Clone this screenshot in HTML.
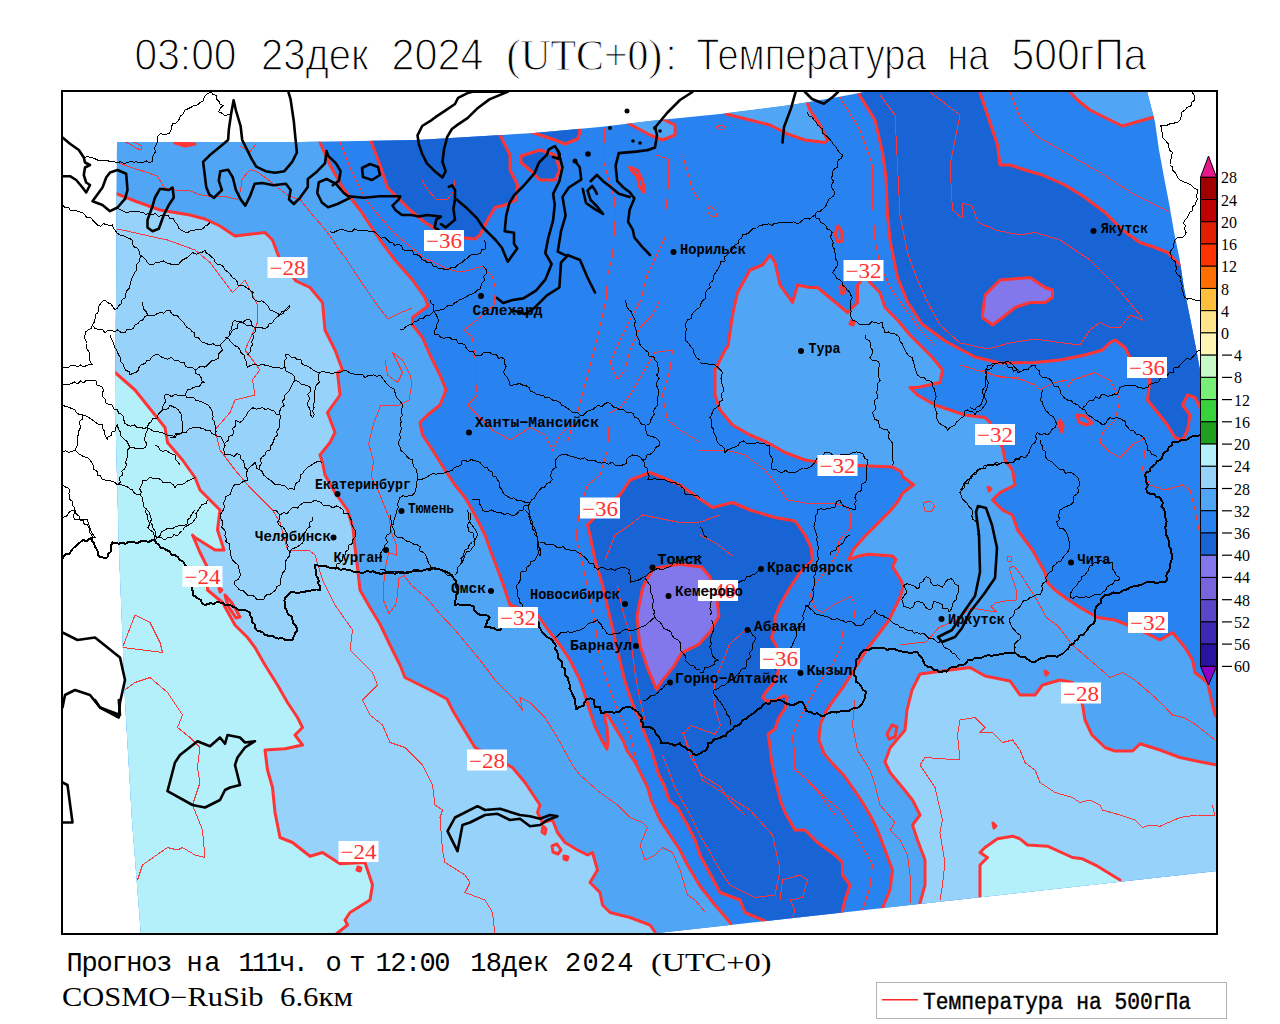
<!DOCTYPE html>
<html><head><meta charset="utf-8"><style>
html,body{margin:0;padding:0;background:#fff;width:1280px;height:1024px;overflow:hidden}
svg{display:block}
text{font-family:"Liberation Sans",sans-serif}
.tr{fill:none;stroke:#ff3434;stroke-width:3;stroke-linejoin:round;stroke-linecap:round}
.tn{fill:none;stroke:#f83838;stroke-width:1;stroke-linejoin:round;shape-rendering:crispEdges}
.bk{fill:none;stroke:#000;stroke-width:2.6;stroke-linejoin:round;stroke-linecap:round}
.bm{fill:none;stroke:#000;stroke-width:2;stroke-linejoin:round;shape-rendering:crispEdges}
.bt{fill:none;stroke:#000;stroke-width:1;stroke-linejoin:round;shape-rendering:crispEdges}
.gd{fill:none;stroke:#b4a08c;stroke-width:1;stroke-dasharray:2 10}
.lb{font-family:"Liberation Serif",serif;font-size:21px;fill:#ff3030}
.ct{font-family:"Liberation Mono",monospace;font-weight:bold;font-size:15px;fill:#000}
.cb{font-family:"Liberation Serif",serif;font-size:16px;fill:#000}
</style></head><body>
<svg width="1280" height="1024" viewBox="0 0 1280 1024">

<defs><clipPath id="fld"><polygon points="117.0,142.0 300.0,142.0 417.0,140.0 534.0,133.0 600.0,127.0 650.0,121.0 720.0,114.0 791.0,105.0 838.0,97.0 870.0,91.0 1147.0,91.0 1155.0,122.0 1159.0,150.0 1164.0,177.0 1169.4,205.0 1174.0,232.0 1179.6,259.0 1183.8,287.0 1190.7,321.0 1196.0,348.0 1200.0,370.0 1217.0,455.0 1217.0,871.0 640.0,935.0 141.0,935.0 132.0,820.0 125.0,700.0 119.0,550.0 115.0,400.0 116.0,300.0"/></clipPath><clipPath id="fr"><rect x="62" y="91" width="1155" height="843"/></clipPath></defs>
<g clip-path="url(#fr)"><g clip-path="url(#fld)">
<rect x="0" y="0" width="1280" height="1024" fill="#2882f0"/>
<polygon fill="#50a5f5" points="320.0,142.5 330.0,165.0 342.5,187.5 360.0,210.0 380.0,240.0 395.0,260.0 412.5,280.0 425.0,297.5 428.0,306.0 412.5,317.5 412.5,325.0 422.5,337.5 430.0,355.0 440.0,375.0 446.0,390.0 440.0,405.0 427.5,415.0 420.0,422.5 422.5,435.0 432.5,450.0 445.0,470.0 455.0,485.0 465.0,497.5 475.0,515.0 485.0,535.0 492.5,556.0 495.0,562.5 502.5,582.5 510.0,605.0 537.5,615.0 550.0,632.5 560.0,645.0 570.0,660.0 580.0,680.0 585.8,697.6 589.3,709.3 595.2,726.9 601.0,738.6 606.9,749.1 608.0,741.0 606.9,726.9 604.5,717.5 605.7,712.8 609.2,717.5 616.2,729.2 623.3,741.0 626.8,750.3 635.0,762.0 642.0,776.0 647.9,787.8 651.0,800.0 660.0,820.0 670.0,835.0 680.0,850.0 687.5,865.0 700.0,886.0 715.0,905.0 730.0,922.5 735.0,935.0 740.0,980.0 0.0,980.0 0.0,60.0 320.0,60.0"/>
<polygon fill="#96d2fa" points="117.0,193.8 135.0,201.0 160.0,210.0 190.0,215.0 205.0,219.0 220.0,226.0 235.0,236.0 265.0,232.5 272.5,240.0 280.0,260.0 296.0,281.0 310.0,287.5 322.5,302.5 325.0,330.0 335.0,350.0 342.5,370.0 337.5,372.5 340.0,395.0 327.5,412.5 335.0,432.5 330.0,442.5 320.0,455.0 322.5,462.5 325.0,475.0 335.0,492.5 347.5,510.0 353.0,528.0 355.0,547.5 357.5,567.5 360.0,590.0 370.0,607.5 380.0,624.0 390.0,645.0 400.0,665.0 405.0,677.5 430.0,690.0 447.0,699.0 453.0,711.0 465.0,731.0 475.0,747.5 512.5,767.5 525.0,782.5 540.0,805.0 537.5,812.5 542.5,822.5 552.5,820.0 557.5,832.5 565.0,842.5 577.5,850.0 587.5,855.0 592.5,852.5 597.5,870.0 590.0,882.5 600.0,892.5 602.5,905.0 610.0,912.5 630.0,917.5 650.0,925.0 655.0,932.0 655.0,980.0 0.0,980.0 0.0,190.0"/>
<polygon fill="#b4f0fa" points="115.0,372.5 135.0,390.0 155.0,415.0 165.0,427.5 167.5,442.5 182.5,460.0 195.0,477.5 200.0,490.0 220.0,510.0 217.5,530.0 224.0,550.0 215.0,550.0 195.0,537.5 192.5,535.0 200.0,552.5 207.5,567.5 207.5,590.0 222.5,602.5 235.0,625.0 247.5,637.5 255.0,647.5 265.0,665.0 277.5,685.0 287.5,702.5 297.5,717.5 302.5,727.5 295.0,735.0 302.5,745.0 285.0,748.8 265.0,750.0 267.5,770.0 272.5,787.5 275.0,812.5 280.0,837.5 292.5,842.5 310.0,856.2 322.5,852.5 340.0,863.8 365.0,862.5 372.5,885.0 370.0,900.0 350.0,912.5 345.0,920.0 347.5,925.0 335.0,935.0 335.0,980.0 0.0,980.0 0.0,372.0"/>
<polygon fill="#1864d4" points="371.0,141.0 380.0,165.0 387.5,187.5 400.0,200.0 410.0,210.0 425.0,222.5 437.5,230.0 450.0,236.0 465.0,238.0 475.0,239.0 480.0,235.0 487.5,220.0 495.0,207.5 505.0,205.0 516.0,200.0 517.5,185.0 510.0,170.0 510.0,155.0 500.0,135.0 500.0,60.0 371.0,60.0"/>
<polygon fill="#1864d4" points="528.0,131.0 555.0,140.0 565.0,144.0 577.5,139.0 580.0,132.5 579.0,128.0 579.0,60.0 528.0,60.0"/>
<polygon fill="#1864d4" points="521.0,156.0 540.0,150.0 555.0,155.0 560.0,170.0 555.0,180.0 540.0,180.0 530.0,170.0 521.0,162.5"/>
<polygon fill="#50a5f5" points="624.0,121.0 650.0,135.0 662.5,140.0 675.0,135.0 675.0,125.0 662.5,119.0 662.0,60.0 624.0,60.0"/>
<polygon fill="#50a5f5" points="726.0,114.0 750.0,120.0 770.0,125.0 787.5,133.8 805.0,140.0 825.0,142.5 827.5,140.0 820.0,125.0 810.0,110.0 807.5,104.0 807.0,60.0 726.0,60.0"/>
<polygon fill="#1864d4" points="858.8,94.0 875.0,120.0 882.5,152.5 886.0,177.5 887.5,215.0 890.0,240.0 897.5,277.5 907.5,302.0 922.0,324.0 945.0,341.0 975.0,357.0 1000.0,363.0 1035.0,362.5 1060.0,360.0 1085.0,355.0 1102.5,350.0 1110.0,342.5 1115.0,340.0 1125.0,347.5 1130.0,357.5 1140.0,368.0 1150.0,380.0 1147.5,400.0 1157.5,412.5 1167.5,425.0 1175.0,437.5 1182.5,440.0 1187.5,430.0 1190.0,415.0 1182.5,405.0 1187.5,395.0 1195.0,397.5 1200.0,407.5 1207.5,427.5 1300.0,430.0 1300.0,265.0 1180.0,265.0 1167.5,252.5 1155.0,247.5 1140.0,242.5 1122.5,230.0 1105.0,212.5 1085.0,197.5 1065.0,185.0 1042.5,175.0 1025.0,170.0 1010.0,165.0 1000.0,165.0 997.5,145.0 990.0,122.5 980.0,92.5 980.0,60.0 858.0,60.0"/>
<polygon fill="#50a5f5" points="1070.0,92.0 1077.5,100.0 1090.0,110.0 1110.0,120.0 1122.5,126.0 1140.0,121.0 1152.5,117.5 1158.0,117.0 1160.0,60.0 1070.0,60.0"/>
<polygon fill="#8278eb" points="982.5,315.0 985.0,295.0 1000.0,280.0 1030.0,277.5 1045.0,287.5 1052.5,290.0 1052.5,297.5 1045.0,302.5 1030.0,302.5 1015.0,307.5 1002.5,317.5 992.5,325.0 982.5,317.5"/>
<polygon fill="#1864d4" points="587.5,525.0 590.0,535.0 595.0,560.0 602.5,585.0 610.0,617.5 617.5,650.0 624.5,680.0 630.3,697.6 635.0,710.5 639.7,717.5 642.0,726.9 646.7,738.6 651.4,750.3 655.0,762.0 658.4,773.8 664.3,785.5 669.0,800.0 677.5,807.5 687.5,825.0 695.0,840.0 700.0,855.0 720.0,892.5 740.0,900.0 745.0,912.5 765.0,921.0 765.0,990.0 842.0,990.0 842.0,913.0 845.0,900.0 850.0,885.0 842.5,875.0 842.5,862.5 835.0,855.0 817.5,842.5 805.0,830.0 795.0,830.0 785.0,812.5 780.2,800.0 775.0,778.0 771.4,760.6 769.6,743.0 768.0,734.2 775.0,729.0 778.4,718.4 785.4,708.0 787.2,697.3 783.7,695.6 775.0,700.8 766.0,700.8 762.6,697.3 766.0,692.0 775.0,681.5 778.4,671.0 778.0,660.0 776.7,646.4 771.4,637.6 775.0,627.0 775.0,617.5 780.0,605.0 790.0,587.5 800.0,572.5 812.5,560.0 811.0,547.5 805.0,535.0 795.0,521.0 775.0,517.5 750.0,510.0 732.5,502.5 712.5,507.5 700.0,499.0 680.0,485.0 662.5,477.5 650.0,472.5 630.0,480.0 620.0,495.0 605.0,506.0"/>
<polygon fill="#8278eb" points="653.7,568.4 679.0,564.2 701.5,567.0 710.0,577.0 716.0,593.0 719.0,616.0 710.0,632.0 698.7,644.4 681.8,652.8 673.4,666.9 662.2,680.9 656.5,689.4 648.1,669.7 639.7,644.4 636.9,616.2 642.5,588.1 648.1,576.9"/>
<polygon fill="#50a5f5" points="858.0,465.5 892.5,467.0 901.0,471.6 903.0,477.0 913.6,484.8 903.0,492.7 897.8,501.5 890.8,510.3 878.5,522.6 864.4,536.7 853.8,549.0 848.6,559.6 859.0,556.0 868.0,554.3 892.5,556.0 896.0,559.6 892.5,566.6 901.3,580.7 903.0,587.7 899.6,598.2 894.3,608.8 889.0,620.0 878.6,634.0 866.3,650.0 855.7,667.5 843.4,686.8 833.0,700.8 825.9,711.4 820.6,723.7 818.8,739.5 824.1,753.6 833.0,764.1 843.4,774.7 852.2,787.0 861.0,800.0 870.0,815.0 877.5,830.0 885.0,850.0 892.5,870.0 890.0,890.0 882.5,908.0 882.0,990.0 1300.0,990.0 1300.0,717.0 1217.0,717.0 1215.0,715.0 1212.5,705.0 1207.5,682.5 1195.0,672.5 1192.5,660.0 1185.0,647.5 1172.5,632.5 1160.0,640.0 1150.0,635.0 1127.5,625.0 1115.0,620.0 1097.5,617.5 1080.0,607.5 1065.0,597.5 1055.0,590.0 1047.5,582.5 1045.0,572.5 1032.5,550.0 1025.0,540.0 1017.5,530.0 1012.5,515.0 1002.5,510.0 992.5,500.0 1000.0,492.5 1015.0,485.0 1012.5,470.0 1005.0,460.0 1002.5,447.5 990.0,422.5 985.0,417.5 965.0,415.0 950.0,410.0 935.0,405.0 917.5,395.0 910.0,387.5 917.5,387.5 940.0,382.5 942.5,370.0 932.5,357.5 920.0,345.0 910.0,335.0 897.5,320.0 885.0,307.5 880.0,292.5 870.0,282.5 865.0,272.0 860.0,282.5 857.5,285.0 857.5,302.5 847.5,312.5 832.5,300.0 817.5,287.5 810.0,287.5 797.5,285.0 792.5,302.5 780.0,285.0 775.0,262.5 770.0,255.0 762.5,265.0 750.0,270.0 737.5,292.5 732.5,315.0 728.0,346.0 725.0,350.0 715.0,370.0 715.0,395.0 720.0,410.0 732.5,425.0 750.0,435.0 767.5,442.5 785.0,452.5 805.0,460.0 817.5,462.0 840.0,464.0"/>
<polygon fill="#96d2fa" points="920.0,903.0 925.0,885.0 925.0,860.0 917.5,840.0 912.5,825.0 920.0,815.0 912.5,800.0 902.5,787.5 890.0,772.5 885.0,762.0 890.0,748.0 905.0,730.0 907.0,710.0 912.0,690.0 920.0,674.0 950.0,670.0 970.0,667.5 985.0,676.0 1010.0,681.0 1020.0,695.0 1035.0,695.0 1042.5,685.0 1060.0,680.0 1072.5,682.5 1082.5,705.0 1085.0,720.0 1092.0,735.0 1105.0,747.5 1115.0,751.0 1132.5,751.0 1140.0,743.8 1160.0,750.0 1180.0,757.5 1197.5,761.2 1217.0,765.0 1300.0,765.0 1300.0,990.0 920.0,990.0"/>
<polygon fill="#b4f0fa" points="980.0,898.0 980.0,865.0 987.5,857.5 980.0,852.5 985.0,847.5 997.5,838.8 1012.5,836.2 1020.0,838.8 1027.5,845.0 1047.5,846.2 1072.5,857.5 1082.5,858.8 1097.5,866.2 1120.0,880.0 1120.0,990.0 980.0,990.0"/>
<polyline class="tn" points="122.5,141.0 130.0,144.0 135.0,147.5 141.0,150.0 142.0,146.0 136.0,143.0 130.0,141.0"/>
<polyline class="tn" points="716.0,127.0 721.0,125.0 726.0,127.0 721.0,130.0 716.0,127.0"/>
<polyline class="tn" points="710.0,206.0 715.0,210.0 717.0,216.0 711.0,216.0 707.0,211.0 710.0,206.0"/>
<polyline class="tn" points="117.5,229.0 167.5,240.0 195.0,250.0 210.0,262.5 232.5,292.5 245.0,280.0 257.5,305.0 257.5,322.5 245.0,350.0 260.0,370.0 252.5,380.0 255.0,395.0 235.0,400.0 230.0,412.5 215.0,430.0 220.0,450.0 235.0,470.0 250.0,487.5 272.5,510.0 280.0,522.5 287.5,550.0 310.0,551.0 315.0,555.0 322.5,580.0 335.0,605.0 352.5,630.0 350.0,650.0 372.5,672.5 377.5,685.0 362.5,700.0 370.0,715.0 382.5,725.0 390.0,742.5 405.0,747.5 422.5,765.0 432.5,785.0 435.0,805.0 442.5,810.0 440.0,817.5 442.5,850.0 445.0,862.5 465.0,875.0 470.0,882.5 465.0,892.5 485.0,900.0 492.5,912.5 495.0,934.0"/>
<polyline class="tn" points="122.5,647.5 135.0,615.0 150.0,622.5 160.0,642.5 162.5,652.5 142.5,650.0 122.5,647.5"/>
<polyline class="tn" points="125.0,690.0 135.0,682.5 150.0,677.5 167.5,692.5 182.5,715.0 177.5,727.5 190.0,737.5 200.0,747.5 197.5,767.5 200.0,782.5 192.5,805.0 202.5,830.0 205.0,857.5 195.0,855.0 182.5,847.5 177.5,850.0 167.5,847.5 142.5,865.0 137.5,880.0"/>
<polyline class="tn" points="385.0,360.0 387.5,375.0 397.5,382.5 402.5,372.5 392.5,352.5 402.5,360.0 410.0,375.0 412.0,383.0 409.0,400.0 399.0,405.0 381.0,405.0 373.6,423.2 368.6,443.5 373.6,461.3 371.1,476.5 378.7,491.7 388.9,517.1 391.4,532.4 396.5,545.0 396.5,555.2 388.9,552.7 386.3,562.9 383.8,583.2 383.8,601.0 388.9,613.7 396.5,603.5 399.0,578.1 404.1,575.6 411.8,585.7 427.0,598.4 439.7,613.7 455.0,630.0 480.0,660.0 495.0,680.0 515.0,700.0 522.5,710.0 520.0,697.5 530.0,702.5 545.0,717.5 557.0,737.0 567.0,755.0 573.0,766.0 580.0,775.0 600.0,792.5 617.5,805.0 630.0,817.5 642.5,822.5 647.5,827.5 640.0,845.0 645.0,860.0 655.0,855.0 662.5,847.5 672.5,852.5 680.0,870.0 687.5,895.0 695.0,900.0 705.0,912.0"/>
<polyline class="tn" points="840.0,97.5 860.0,130.0 872.5,165.0 872.5,202.5 875.0,240.0 880.0,265.0 890.0,287.5 902.5,305.0 920.0,330.0 935.0,345.0"/>
<polyline class="tn" points="880.0,95.0 895.0,115.0 897.5,165.0 900.0,215.0 907.5,252.5 917.5,280.0 927.5,302.0 940.0,325.0 960.0,343.0 987.5,349.0 1010.0,343.0 1035.0,339.0 1060.0,342.5 1080.0,345.0 1090.0,330.0 1100.0,322.5 1110.0,327.5 1120.0,327.5 1130.0,315.0 1142.5,320.0 1140.0,315.0 1115.0,285.0 1090.0,260.0 1060.0,240.0 1035.0,232.5 1020.0,235.0 995.0,230.0 978.0,222.0 972.0,206.0 963.0,203.0 962.0,218.0 952.5,210.0 950.0,165.0 960.0,115.0 930.0,92.0"/>
<polyline class="tn" points="1010.0,92.5 1020.0,117.5 1035.0,135.0 1065.0,152.5 1100.0,172.5 1135.0,195.0 1170.0,212.5"/>
<polyline class="tn" points="960.0,365.0 992.5,375.0 1022.5,380.0 1035.0,385.0 1040.0,390.0 1055.0,382.5 1067.5,380.0 1067.5,387.5 1072.5,380.0 1095.0,372.5 1110.0,380.0 1120.0,400.0 1115.0,420.0 1102.5,432.5 1100.0,442.5 1110.0,452.5 1120.0,457.5 1132.5,445.0 1145.0,437.5 1145.0,450.0 1142.5,470.0 1150.0,485.0 1165.0,490.0 1182.5,485.0 1190.0,490.0 1195.0,510.0 1205.0,560.0 1215.0,590.0"/>
<polyline class="tn" points="982.5,370.0 1000.0,377.5 1020.0,377.5"/>
<polyline class="tn" points="700.0,450.0 725.0,450.0 745.0,455.0 765.0,470.0 780.0,489.0 787.0,499.8 806.4,503.3 832.7,503.3 846.8,506.8 850.3,513.8 850.3,528.0 838.0,542.0 838.0,552.5 829.2,566.6 815.2,584.2 810.0,594.7 815.2,608.8 822.2,612.3 836.3,603.5 850.3,596.5 855.6,605.3 853.8,620.0"/>
<polyline class="tn" points="700.0,535.0 715.0,542.5 732.5,556.0"/>
<polyline class="tn" points="605.0,128.0 603.0,159.0 609.0,181.0 614.0,197.0 615.6,212.5 614.0,236.0 612.5,256.0 607.8,275.0 606.0,300.0 597.5,337.5 587.5,375.0 577.5,412.5"/>
<polyline class="tn" points="656.0,155.0 668.8,159.4 668.8,181.2 665.6,212.5 665.6,236.0 656.2,256.2 646.9,275.0 641.0,300.0 630.0,320.0 620.0,340.0 610.0,362.5 617.5,380.0 625.0,370.0 630.0,350.0 640.0,327.5 652.5,315.0 660.0,300.0"/>
<polyline class="tn" points="682.8,156.2 687.5,171.9 692.2,189.0 700.0,201.6"/>
<polyline class="tn" points="672.5,350.0 655.0,352.5 640.0,377.5 630.0,395.0 620.0,407.5 610.0,412.5 607.5,450.0 600.0,475.0 587.5,485.0 580.0,507.5 576.0,537.0 580.0,552.0 588.0,590.0 595.0,622.5 600.0,660.0 610.0,690.0 617.5,710.0 630.0,735.0 637.5,766.0"/>
<polyline class="tn" points="672.5,350.0 670.0,370.0 662.5,395.0 667.5,420.0 680.0,430.0 692.5,437.5 700.0,442.5"/>
<polyline class="tn" points="464.0,330.0 472.5,337.5 475.0,357.5 475.0,377.5 477.5,395.0 467.5,405.0 480.0,417.5 492.5,430.0 510.0,440.0 530.0,427.5 545.0,435.0 552.5,450.0 560.0,435.0 567.5,427.5 567.5,442.5 572.5,425.0"/>
<polyline class="tn" points="605.0,560.0 615.0,535.0 630.0,525.0 642.5,515.0 655.0,517.5 680.0,522.5 700.0,522.0 720.0,515.0"/>
<polyline class="tn" points="617.5,585.0 622.5,610.0 630.0,635.0 635.0,672.5 640.0,700.0 645.0,720.0"/>
<polyline class="tn" points="682.5,732.5 692.5,755.0 702.5,780.0 730.0,797.5 750.0,810.0 772.5,835.0 780.0,870.0 775.0,895.0 755.0,897.5 730.0,885.0 720.0,870.0 700.0,835.0 687.5,810.0 675.0,787.5 667.5,767.5 662.5,755.0"/>
<polyline class="tn" points="841.7,628.8 843.4,641.0 833.0,664.0 818.8,683.0 808.3,702.6 797.8,722.0 792.5,736.0 795.0,770.0 807.5,780.0 825.0,797.5 840.0,810.0 850.0,825.0 860.0,842.5 872.5,865.0 870.0,887.5 862.5,910.0"/>
<polyline class="tn" points="855.0,700.0 852.5,725.0 857.5,750.0 870.0,770.0 875.0,785.0 880.0,805.0 895.0,822.5 890.0,830.0 900.0,840.0 907.5,855.0 910.0,875.0 910.0,902.5"/>
<polyline class="tn" points="746.8,628.8 729.2,644.6 724.0,658.7 715.0,679.8 713.4,695.6 715.0,708.0 720.4,725.4 715.0,734.2 690.5,725.4 683.5,734.2 690.5,757.0 701.0,774.7 720.4,787.0 729.2,800.0 745.0,815.0"/>
<polyline class="tn" points="780.0,900.0 782.5,880.0 800.0,875.0 807.5,880.0 802.5,897.5 790.0,900.0 795.0,910.0 792.5,917.5"/>
<polyline class="tn" points="793.0,736.0 796.0,769.0 813.6,787.0 824.0,800.0 835.0,815.0"/>
<polyline class="tn" points="920.0,765.0 925.0,757.5 960.0,760.0 957.5,735.0 960.0,720.0 975.0,717.5 985.0,727.5 980.0,732.5 992.5,732.5 1002.5,742.5 1012.5,740.0 1020.0,750.0 1025.0,762.5 1035.0,770.0 1040.0,782.5 1055.0,792.5 1072.5,797.5 1080.0,802.5 1090.0,800.0 1100.0,805.0 1102.5,810.0 1120.0,815.0 1135.0,820.0 1142.5,827.5 1150.0,825.0 1160.0,826.2 1180.0,817.5 1197.5,815.0 1215.0,815.0 1212.0,805.0"/>
<polyline class="tn" points="920.0,765.0 935.0,787.5 942.5,820.0 940.0,832.5 945.0,862.5 942.5,885.0 940.0,900.0"/>
<polyline class="tn" points="1009.0,568.0 1014.0,566.0 1021.0,575.0 1037.0,600.0 1046.0,617.0 1058.0,626.0 1072.5,645.0 1090.0,660.0 1110.0,677.5 1122.5,672.5 1135.0,680.0 1160.0,702.0 1172.5,715.0 1185.0,718.0 1197.5,726.0 1215.0,740.0"/>
<polyline class="tn" points="1009.0,568.0 1016.0,589.0 1016.0,600.0 1005.5,601.0 995.0,603.0 991.0,606.6 996.7,612.0 984.0,610.0 970.0,608.0 958.0,619.0 938.7,627.7 926.4,641.8 900.0,645.0"/>
<polyline class="tn" points="923.0,503.0 930.0,501.0 935.0,506.0 931.0,512.0 925.0,511.0 923.0,503.0"/>
<polyline class="tn" points="1007.0,556.0 1011.0,557.0 1012.0,561.0 1008.0,561.0 1007.0,556.0"/>
<polyline class="tn" points="117.5,162.5 135.0,168.8 147.5,172.5 157.5,176.2 161.2,182.5 163.8,187.5 175.0,190.0 187.5,190.0 200.0,194.7 209.4,196.2 223.4,196.2 237.5,199.4 240.6,190.0 242.2,179.0 250.0,169.7 256.2,171.2 267.2,179.0 276.6,186.9 289.0,196.2 300.0,199.4 312.5,215.0 323.4,227.5 332.8,240.0 339.0,250.0 345.6,258.0 361.0,281.5 377.0,305.0 388.0,319.0 400.0,313.0 412.0,308.0"/>
<polyline class="tn" points="340.0,142.5 352.0,172.0 366.0,200.0 375.0,211.0 392.5,231.5 424.0,258.0 452.0,270.6 463.0,272.0 483.0,266.0 492.5,277.0 495.6,289.0 494.0,305.0 480.0,317.5 464.0,330.0"/>
<polyline class="tn" points="422.0,180.0 427.0,189.0 436.0,199.0 447.0,200.0 453.0,192.5 455.0,180.0"/>
<polyline class="tn" points="240.0,146.0 250.0,152.0 256.0,144.0"/>
<polyline class="tr" points="115.0,372.5 135.0,390.0 155.0,415.0 165.0,427.5 167.5,442.5 182.5,460.0 195.0,477.5 200.0,490.0 220.0,510.0 217.5,530.0 224.0,550.0 215.0,550.0 195.0,537.5 192.5,535.0 200.0,552.5 207.5,567.5 207.5,590.0 222.5,602.5 235.0,625.0 247.5,637.5 255.0,647.5 265.0,665.0 277.5,685.0 287.5,702.5 297.5,717.5 302.5,727.5 295.0,735.0 302.5,745.0 285.0,748.8 265.0,750.0 267.5,770.0 272.5,787.5 275.0,812.5 280.0,837.5 292.5,842.5 310.0,856.2 322.5,852.5 340.0,863.8 365.0,862.5 372.5,885.0 370.0,900.0 350.0,912.5 345.0,920.0 347.5,925.0 335.0,935.0"/>
<polyline class="tr" points="117.0,193.8 135.0,201.0 160.0,210.0 190.0,215.0 205.0,219.0 220.0,226.0 235.0,236.0 265.0,232.5 272.5,240.0 280.0,260.0 296.0,281.0 310.0,287.5 322.5,302.5 325.0,330.0 335.0,350.0 342.5,370.0 337.5,372.5 340.0,395.0 327.5,412.5 335.0,432.5 330.0,442.5 320.0,455.0 322.5,462.5 325.0,475.0 335.0,492.5 347.5,510.0 353.0,528.0 355.0,547.5 357.5,567.5 360.0,590.0 370.0,607.5 380.0,624.0 390.0,645.0 400.0,665.0 405.0,677.5 430.0,690.0 447.0,699.0 453.0,711.0 465.0,731.0 475.0,747.5 512.5,767.5 525.0,782.5 540.0,805.0 537.5,812.5 542.5,822.5 552.5,820.0 557.5,832.5 565.0,842.5 577.5,850.0 587.5,855.0 592.5,852.5 597.5,870.0 590.0,882.5 600.0,892.5 602.5,905.0 610.0,912.5 630.0,917.5 650.0,925.0 655.0,932.0"/>
<polyline class="tr" points="320.0,142.5 330.0,165.0 342.5,187.5 360.0,210.0 380.0,240.0 395.0,260.0 412.5,280.0 425.0,297.5 428.0,306.0 412.5,317.5 412.5,325.0 422.5,337.5 430.0,355.0 440.0,375.0 446.0,390.0 440.0,405.0 427.5,415.0 420.0,422.5 422.5,435.0 432.5,450.0 445.0,470.0 455.0,485.0 465.0,497.5 475.0,515.0 485.0,535.0 492.5,556.0 495.0,562.5 502.5,582.5 510.0,605.0 537.5,615.0 550.0,632.5 560.0,645.0 570.0,660.0 580.0,680.0 585.8,697.6 589.3,709.3 595.2,726.9 601.0,738.6 606.9,749.1 608.0,741.0 606.9,726.9 604.5,717.5 605.7,712.8 609.2,717.5 616.2,729.2 623.3,741.0 626.8,750.3 635.0,762.0 642.0,776.0 647.9,787.8 651.0,800.0 660.0,820.0 670.0,835.0 680.0,850.0 687.5,865.0 700.0,886.0 715.0,905.0 730.0,922.5 735.0,935.0"/>
<polyline class="tr" points="371.0,141.0 380.0,165.0 387.5,187.5 400.0,200.0 410.0,210.0 425.0,222.5 437.5,230.0 450.0,236.0 465.0,238.0 475.0,239.0 480.0,235.0 487.5,220.0 495.0,207.5 505.0,205.0 516.0,200.0 517.5,185.0 510.0,170.0 510.0,155.0 500.0,135.0"/>
<polyline class="tr" points="528.0,131.0 555.0,140.0 565.0,144.0 577.5,139.0 580.0,132.5 579.0,128.0"/>
<polyline class="tr" points="624.0,121.0 650.0,135.0 662.5,140.0 675.0,135.0 675.0,125.0 662.5,119.0"/>
<polyline class="tr" points="726.0,114.0 750.0,120.0 770.0,125.0 787.5,133.8 805.0,140.0 825.0,142.5 827.5,140.0 820.0,125.0 810.0,110.0 807.5,104.0"/>
<polyline class="tr" points="858.8,94.0 875.0,120.0 882.5,152.5 886.0,177.5 887.5,215.0 890.0,240.0 897.5,277.5 907.5,302.0 922.0,324.0 945.0,341.0 975.0,357.0 1000.0,363.0 1035.0,362.5 1060.0,360.0 1085.0,355.0 1102.5,350.0 1110.0,342.5 1115.0,340.0 1125.0,347.5 1130.0,357.5 1140.0,368.0 1150.0,380.0 1147.5,400.0 1157.5,412.5 1167.5,425.0 1175.0,437.5 1182.5,440.0 1187.5,430.0 1190.0,415.0 1182.5,405.0 1187.5,395.0 1195.0,397.5 1200.0,407.5 1207.5,427.5"/>
<polyline class="tr" points="980.0,92.5 990.0,122.5 997.5,145.0 1000.0,165.0 1010.0,165.0 1025.0,170.0 1042.5,175.0 1065.0,185.0 1085.0,197.5 1105.0,212.5 1122.5,230.0 1140.0,242.5 1155.0,247.5 1167.5,252.5 1180.0,265.0"/>
<polyline class="tr" points="1070.0,92.0 1077.5,100.0 1090.0,110.0 1110.0,120.0 1122.5,126.0 1140.0,121.0 1152.5,117.5 1158.0,117.0"/>
<polyline class="tr" points="920.0,903.0 925.0,885.0 925.0,860.0 917.5,840.0 912.5,825.0 920.0,815.0 912.5,800.0 902.5,787.5 890.0,772.5 885.0,762.0 890.0,748.0 905.0,730.0 907.0,710.0 912.0,690.0 920.0,674.0 950.0,670.0 970.0,667.5 985.0,676.0 1010.0,681.0 1020.0,695.0 1035.0,695.0 1042.5,685.0 1060.0,680.0 1072.5,682.5 1082.5,705.0 1085.0,720.0 1092.0,735.0 1105.0,747.5 1115.0,751.0 1132.5,751.0 1140.0,743.8 1160.0,750.0 1180.0,757.5 1197.5,761.2 1217.0,765.0"/>
<polyline class="tr" points="980.0,898.0 980.0,865.0 987.5,857.5 980.0,852.5 985.0,847.5 997.5,838.8 1012.5,836.2 1020.0,838.8 1027.5,845.0 1047.5,846.2 1072.5,857.5 1082.5,858.8 1097.5,866.2 1120.0,880.0"/>
<polygon class="tr" points="521.0,156.0 540.0,150.0 555.0,155.0 560.0,170.0 555.0,180.0 540.0,180.0 530.0,170.0 521.0,162.5"/>
<polygon class="tr" points="982.5,315.0 985.0,295.0 1000.0,280.0 1030.0,277.5 1045.0,287.5 1052.5,290.0 1052.5,297.5 1045.0,302.5 1030.0,302.5 1015.0,307.5 1002.5,317.5 992.5,325.0 982.5,317.5"/>
<polygon class="tr" points="653.7,568.4 679.0,564.2 701.5,567.0 710.0,577.0 716.0,593.0 719.0,616.0 710.0,632.0 698.7,644.4 681.8,652.8 673.4,666.9 662.2,680.9 656.5,689.4 648.1,669.7 639.7,644.4 636.9,616.2 642.5,588.1 648.1,576.9"/>
<polyline class="tr" points="587.5,525.0 590.0,535.0 595.0,560.0 602.5,585.0 610.0,617.5 617.5,650.0 624.5,680.0 630.3,697.6 635.0,710.5 639.7,717.5 642.0,726.9 646.7,738.6 651.4,750.3 655.0,762.0 658.4,773.8 664.3,785.5 669.0,800.0 677.5,807.5 687.5,825.0 695.0,840.0 700.0,855.0 720.0,892.5 740.0,900.0 745.0,912.5 765.0,921.0"/>
<polyline class="tr" points="842.0,913.0 845.0,900.0 850.0,885.0 842.5,875.0 842.5,862.5 835.0,855.0 817.5,842.5 805.0,830.0 795.0,830.0 785.0,812.5 780.2,800.0 775.0,778.0 771.4,760.6 769.6,743.0 768.0,734.2 775.0,729.0 778.4,718.4 785.4,708.0 787.2,697.3 783.7,695.6 775.0,700.8 766.0,700.8 762.6,697.3 766.0,692.0 775.0,681.5 778.4,671.0 778.0,660.0 776.7,646.4 771.4,637.6 775.0,627.0 775.0,617.5 780.0,605.0 790.0,587.5 800.0,572.5 812.5,560.0 811.0,547.5 805.0,535.0 795.0,521.0 775.0,517.5 750.0,510.0 732.5,502.5 712.5,507.5 700.0,499.0 680.0,485.0 662.5,477.5 650.0,472.5 630.0,480.0 620.0,495.0 605.0,506.0 587.5,525.0"/>
<polyline class="tr" points="858.0,465.5 892.5,467.0 901.0,471.6 903.0,477.0 913.6,484.8 903.0,492.7 897.8,501.5 890.8,510.3 878.5,522.6 864.4,536.7 853.8,549.0 848.6,559.6 859.0,556.0 868.0,554.3 892.5,556.0 896.0,559.6 892.5,566.6 901.3,580.7 903.0,587.7 899.6,598.2 894.3,608.8 889.0,620.0 878.6,634.0 866.3,650.0 855.7,667.5 843.4,686.8 833.0,700.8 825.9,711.4 820.6,723.7 818.8,739.5 824.1,753.6 833.0,764.1 843.4,774.7 852.2,787.0 861.0,800.0 870.0,815.0 877.5,830.0 885.0,850.0 892.5,870.0 890.0,890.0 882.5,908.0"/>
<polyline class="tr" points="1217.0,717.0 1215.0,715.0 1212.5,705.0 1207.5,682.5 1195.0,672.5 1192.5,660.0 1185.0,647.5 1172.5,632.5 1160.0,640.0 1150.0,635.0 1127.5,625.0 1115.0,620.0 1097.5,617.5 1080.0,607.5 1065.0,597.5 1055.0,590.0 1047.5,582.5 1045.0,572.5 1032.5,550.0 1025.0,540.0 1017.5,530.0 1012.5,515.0 1002.5,510.0 992.5,500.0 1000.0,492.5 1015.0,485.0 1012.5,470.0 1005.0,460.0 1002.5,447.5 990.0,422.5 985.0,417.5 965.0,415.0 950.0,410.0 935.0,405.0 917.5,395.0 910.0,387.5 917.5,387.5 940.0,382.5 942.5,370.0 932.5,357.5 920.0,345.0 910.0,335.0 897.5,320.0 885.0,307.5 880.0,292.5 870.0,282.5 865.0,272.0 860.0,282.5 857.5,285.0 857.5,302.5 847.5,312.5 832.5,300.0 817.5,287.5 810.0,287.5 797.5,285.0 792.5,302.5 780.0,285.0 775.0,262.5 770.0,255.0 762.5,265.0 750.0,270.0 737.5,292.5 732.5,315.0 728.0,346.0 725.0,350.0 715.0,370.0 715.0,395.0 720.0,410.0 732.5,425.0 750.0,435.0 767.5,442.5 785.0,452.5 805.0,460.0 817.5,462.0 840.0,464.0"/>
<polygon class="tr" points="838.0,226.0 842.0,232.0 842.0,241.0 838.0,242.0 835.0,234.0"/>
<polygon class="tr" points="629.7,167.2 637.5,170.3 640.6,176.6 643.8,186.0 643.8,192.2 639.0,186.0 637.5,176.6 631.2,170.3"/>
<polygon class="tr" points="225.0,595.0 232.0,603.0 240.0,617.0 236.0,618.0 228.0,606.0"/>
<polygon class="tr" points="1060.0,420.0 1063.0,426.0 1062.0,432.0 1059.0,426.0"/>
<polygon class="tr" points="1077.0,415.0 1085.0,416.0 1092.0,423.0 1086.0,425.0 1079.0,422.0"/>
<polygon class="tr" points="887.0,734.0 892.0,725.0 897.0,727.0 895.0,737.0 889.0,739.0"/>
<polygon class="tr" points="543.0,826.0 546.0,829.0 545.0,834.0 542.0,832.0"/>
<polygon class="tr" points="552.0,846.0 557.0,844.0 561.0,850.0 558.0,854.0 553.0,852.0"/>
<polygon class="tr" points="564.0,856.0 568.0,857.0 567.0,860.0 564.0,859.0"/>
<polygon class="tr" points="840.0,287.0 843.0,285.0 845.0,292.0 842.0,294.0"/>
<polygon class="tr" points="851.0,321.0 854.0,322.0 853.0,325.0 850.0,324.0"/>
<polygon class="tr" points="358.0,867.0 361.0,868.0 360.0,871.0 357.0,870.0"/>
<polygon class="tr" points="993.0,823.0 996.0,826.0 994.0,828.0"/>
<polygon class="tr" points="1045.0,671.0 1048.0,673.0 1046.0,675.0"/>
<polygon class="tr" points="219.0,588.0 222.0,590.0 220.0,592.0"/>
<polygon class="tr" points="988.0,487.0 991.0,489.0 989.0,491.0"/>
<polygon class="tr" points="175.0,143.0 185.0,146.0 195.0,144.0"/>
</g>
<polyline class="bt" points="903.5,585.5 907.0,583.7 910.8,584.9 914.6,586.2 917.6,589.0 919.8,586.8 919.9,583.2 923.0,581.7 924.3,578.9 926.4,576.7 929.9,578.7 931.0,582.6 933.4,585.5 938.1,584.9 942.2,587.3 944.2,584.9 945.6,581.9 947.8,579.7 951.0,578.5 953.5,580.7 954.9,584.0 958.0,585.5 958.8,589.2 958.1,592.7 956.3,596.0 956.3,599.6 953.2,601.9 952.5,605.7 951.3,609.1 949.2,612.0 947.6,608.5 942.9,608.7 942.1,604.3 938.7,603.0 933.4,601.3 932.9,604.5 932.3,607.5 930.0,610.0 926.7,608.6 924.8,605.8 922.9,603.0 917.6,601.3 914.5,602.9 913.6,606.8 910.5,608.4 907.1,607.2 903.5,606.6 903.1,603.0 901.8,599.6 904.0,595.8 907.0,592.5 905.4,588.9 903.5,585.5"/>
<polyline class="bt" points="83.8,157.5 87.5,156.7 90.9,157.3 94.2,158.4 97.5,160.0 100.8,161.0 104.2,160.6 107.6,160.6 110.8,162.0 114.2,161.9 117.5,162.5 120.7,161.7 123.9,163.3 127.1,162.8 130.2,161.2 133.4,162.2 136.6,161.9 139.8,163.0 143.0,162.4 146.1,160.8 149.4,163.0 152.5,161.2 152.0,157.7 153.7,154.7 155.6,151.7 154.3,148.0 156.2,145.0 157.5,141.2 157.3,137.0 160.0,133.8 164.4,134.3 168.8,133.8 170.8,130.7 171.5,127.2 172.5,123.8 176.3,123.0 178.8,120.0 180.3,116.3 183.5,113.7 185.0,110.0 188.1,108.8 191.1,107.2 193.9,105.4 197.5,105.0 200.0,102.5 203.3,100.8 204.1,97.2 206.2,94.7 211.0,91.6"/>
<polyline class="bt" points="211.0,91.6 212.6,94.3 216.3,95.3 216.7,99.1 218.9,101.3 220.1,104.4 223.4,105.6 220.2,108.1 218.8,111.9 222.3,113.3 225.0,116.0 228.4,114.6 232.0,114.0"/>
<polyline class="bt" points="62.5,205.0 64.7,207.1 68.4,207.0 70.0,210.0 73.0,210.9 76.4,210.9 79.4,211.8 82.5,212.6 85.0,215.0 86.9,217.7 90.8,218.0 93.0,220.3 95.2,222.7 97.5,225.0 100.5,226.3 103.5,223.6 106.5,224.8 109.5,225.2 112.5,225.0 113.3,228.3 115.4,230.7 117.1,233.2 120.0,235.0 123.3,235.6 126.1,237.2 129.2,238.3 132.0,240.0 132.4,243.6 133.8,246.7 137.8,248.4 139.4,251.5 140.0,255.0 143.1,256.9 145.6,259.4 147.5,262.5 150.0,265.0 153.4,264.3 156.4,262.2 160.0,262.0 163.3,260.9 166.1,262.9 169.1,263.4 172.0,264.6 175.0,265.0 178.4,264.6 180.4,262.2 182.5,260.0 185.2,258.7 187.8,257.2 190.0,255.0 192.5,252.6 196.4,254.3 199.3,252.9 202.4,252.2 205.0,250.0 206.2,253.0 209.3,254.6 211.3,257.0 214.0,258.7 215.0,262.0 217.2,264.4 220.9,264.8 223.4,266.9 225.0,270.0 227.9,271.9 230.2,274.2 231.9,277.1 234.8,279.0 237.1,281.4 238.0,285.0 241.5,285.2 244.5,286.2 247.2,288.3 250.0,290.0 253.1,292.6 252.2,297.2 255.0,300.0 258.2,301.4 262.0,300.9 265.0,303.0 268.2,306.0 270.0,310.0 273.6,311.2 276.9,312.9 280.0,315.0 281.6,311.6 285.8,310.8 288.7,308.7 290.0,305.0"/>
<polyline class="bt" points="117.0,208.0 120.4,209.6 123.7,211.3 127.0,213.0 130.1,211.3 133.4,211.2 136.7,211.7 140.0,212.0 143.2,212.0 145.7,214.6 149.3,213.1 152.0,215.0 155.2,213.4 158.5,216.5 161.8,215.1 165.0,215.0 168.2,215.8 169.9,218.6 173.4,218.9 175.0,222.0 177.4,224.6 178.8,228.2 181.6,230.4 185.0,232.0 188.1,232.3 190.9,230.4 193.9,230.4 196.9,229.3 200.0,230.0 203.1,228.7 205.1,226.1 208.1,224.7 210.0,222.0"/>
<polyline class="bt" points="140.0,255.0 140.0,258.1 139.7,261.2 137.2,263.8 136.0,266.7 137.0,270.0 134.5,272.5 133.3,275.6 131.8,278.5 130.7,281.7 130.0,285.0 129.2,288.4 126.7,291.0 125.6,294.2 125.0,297.8 122.0,300.0 121.6,303.4 119.1,305.4 117.4,308.0 115.0,310.0 113.0,307.0 111.1,303.9 107.4,302.6 105.0,300.0 102.1,301.7 100.3,304.1 98.7,306.6 98.7,310.3 97.5,313.0 95.0,315.0 95.1,318.6 94.3,321.9 92.5,325.0 91.4,328.1 88.4,329.7 85.8,331.7 85.0,335.0 84.4,338.2 86.1,341.0 86.0,344.1 86.0,347.2 87.5,350.0 89.8,352.6 89.0,356.2 89.2,359.4 90.6,362.3 92.5,365.0 89.4,364.4 86.5,365.6 83.6,366.8 80.4,365.0 77.5,366.8 74.4,365.5 71.4,365.2 68.5,367.4 65.5,367.6 62.5,367.5"/>
<polyline class="bt" points="92.5,325.0 94.8,328.2 98.4,329.4 102.5,329.7 105.0,332.5 107.9,330.6 111.0,330.1 114.6,332.0 117.5,330.0 120.9,332.2 125.0,332.5 126.8,329.7 130.7,329.6 133.5,328.2 135.0,325.0 137.8,323.8 139.7,321.2 142.6,320.1 144.3,317.3 146.6,315.3 150.0,315.0 153.7,315.7 156.8,313.8 160.0,312.6 163.7,313.1 166.6,310.6 170.0,310.0 171.2,313.0 173.5,315.1 177.1,315.7 179.2,318.0 181.2,320.2 183.5,322.2 185.0,325.0 187.0,327.4 190.0,328.8 191.8,331.4 194.6,332.9 195.0,336.9 198.5,337.8 200.4,340.2 202.5,342.5 206.0,343.3 209.3,344.9 213.0,343.7 216.3,345.9 220.0,345.0 222.5,342.5 225.1,340.1 227.6,337.6 230.0,335.0 229.4,331.5 231.8,328.9 232.0,325.7 232.4,322.5 235.0,320.0 237.5,322.0 241.1,321.1 243.6,323.1 246.2,325.0 249.2,325.5 252.4,325.9 255.0,327.5 258.1,327.6 261.2,327.7 264.4,328.5 267.5,327.5 269.1,324.1 272.6,322.6 274.4,319.4 277.0,317.0 280.0,315.0 283.2,313.2 285.0,310.0 287.6,307.6 290.0,305.0"/>
<polyline class="bt" points="142.5,302.5 142.9,306.0 143.7,309.3 146.4,311.8 147.5,315.0"/>
<polyline class="bt" points="110.0,335.0 110.9,338.1 112.5,340.8 113.7,343.8 114.4,346.9 116.4,349.5 117.5,352.5 119.0,355.4 120.7,358.1 120.9,361.7 123.2,364.1 124.2,367.2 125.6,370.1 129.2,371.8 130.0,375.0 132.6,373.3 135.9,372.5 138.2,370.3 139.3,366.5 141.7,364.6 144.9,363.6 146.6,360.7 150.0,360.0 151.9,356.9 155.0,355.0 158.5,354.3 161.3,357.0 164.4,358.1 167.6,359.2 171.3,357.4 174.1,360.0 177.5,360.0 180.1,362.1 183.9,362.3 185.6,366.1 188.4,368.0 192.6,367.5 195.0,370.0 195.8,373.5 199.3,374.8 201.0,377.5 201.7,381.0 205.0,382.5 201.6,382.7 199.6,386.1 196.3,386.5 193.3,387.5 190.6,389.3 187.5,390.0 185.0,395.0 181.7,396.0 178.3,395.6 175.0,394.2 171.7,396.6 168.3,394.8 165.0,395.0 164.7,398.0 165.6,401.3 164.1,404.1 162.6,406.9 162.5,410.0 160.0,412.5 157.9,415.0 157.0,418.4 152.5,418.9 150.9,421.9 148.4,424.0 147.5,427.5 144.0,428.4 140.7,427.5 137.3,427.8 134.3,424.9 130.7,426.2 127.5,425.0 124.8,423.2 123.9,420.1 123.7,416.7 121.7,414.4 118.5,413.0 117.5,410.0 113.8,409.1 112.0,405.0 108.2,404.2 105.0,402.5 105.2,399.4 102.6,396.7 102.0,393.7 103.6,390.4 102.5,387.5 99.8,385.8 96.6,384.9 95.9,380.7 92.5,380.0 89.4,380.0 86.3,380.0 83.7,382.9 80.3,380.8 77.7,384.0 74.3,381.8 71.5,383.7 68.6,384.5 65.5,384.3 62.5,385.0"/>
<polyline class="bt" points="185.0,395.0 187.1,397.7 190.9,397.1 193.9,398.0 196.1,400.6 199.3,401.1 202.3,402.1 205.0,403.7 207.9,404.7 210.0,407.5 211.8,410.1 212.3,413.2 213.1,416.1 212.5,419.4 214.9,421.9 215.0,425.0 215.0,428.3 216.1,431.7 215.0,435.0 217.8,436.2 220.9,437.0 222.5,440.0 223.8,442.9 225.1,445.7 223.2,449.1 224.3,452.0 225.0,455.0 228.0,453.9 231.0,454.9 234.0,456.5 237.0,453.7 240.0,455.0 240.5,458.5 243.2,460.9 244.5,464.0 245.0,467.5 247.5,470.0 249.7,467.2 252.5,465.0 255.0,462.5 256.1,465.4 257.0,468.4 260.0,470.0 262.5,471.8 263.5,475.1 265.9,476.9 268.2,478.9 270.9,480.5 273.2,482.5 275.0,485.0 278.7,484.4 282.0,485.4 285.4,486.1 288.1,489.1 291.9,488.4 295.0,490.0 294.9,486.6 295.7,483.6 299.1,481.4 300.2,478.4 300.0,475.0 302.9,473.4 304.5,470.3 306.9,468.1 309.5,466.1 312.4,464.5 315.0,462.5 318.8,461.3 322.5,462.5"/>
<polyline class="bt" points="195.0,370.0 197.8,368.4 200.4,366.4 204.3,367.1 207.1,365.7 209.4,363.0 211.8,360.7 215.0,360.0 218.1,358.4 218.2,354.6 220.2,352.2 222.5,350.0 220.0,345.0"/>
<polyline class="bt" points="225.0,337.5 228.6,338.3 230.3,341.4 232.6,343.7 235.0,345.8 238.2,347.1 240.0,350.0 241.2,352.9 244.0,355.2 244.5,358.4 246.3,361.1 246.6,364.4 247.5,367.5 250.3,365.3 253.4,364.7 256.7,365.0 260.0,365.0 263.2,364.4 266.2,365.9 269.4,366.0 272.4,367.1 275.6,367.1 278.7,367.6 281.7,368.5 285.0,367.5 284.6,364.4 284.4,361.2 286.6,358.1 285.0,355.0 288.6,354.7 291.5,357.4 295.0,357.5 297.2,359.6 300.9,359.5 301.9,363.4 304.3,365.3 307.3,366.2 310.0,367.5 313.0,369.9 316.2,371.8 320.0,372.5 323.0,371.3 326.0,372.6 329.0,372.5 332.0,373.6 335.0,372.5 338.6,372.7 341.9,371.9 345.0,370.0 347.8,371.3 350.2,373.4 353.4,373.8 356.2,374.9 359.6,374.5 362.7,374.9 365.0,377.5 367.8,375.8 370.9,376.0 373.8,374.7 377.2,376.6 380.0,375.0 382.0,377.6 384.0,380.3 386.1,382.8 388.1,385.4 390.7,387.5 394.1,388.9 395.0,392.5 396.0,396.1 398.0,399.2 400.6,401.9 402.5,405.0 402.0,408.3 401.1,411.6 402.7,415.2 400.0,418.2 401.3,421.8 400.0,425.0 401.4,428.1 400.8,431.2 399.2,434.4 401.0,437.5 399.2,440.6 398.4,443.8 400.0,446.9 400.0,450.0 402.7,451.7 405.0,453.9 407.1,456.5 409.4,458.7 412.5,460.0 412.9,463.4 413.7,466.8 416.4,469.7 417.0,473.0 417.5,476.5 417.5,480.0 416.1,483.0 416.9,486.4 415.4,489.3 415.0,492.5 412.5,495.1 409.5,495.9 406.2,496.2 402.8,495.9 400.0,497.5 398.5,500.7 397.8,504.0 398.2,507.7 396.6,510.8 395.9,514.2 395.0,517.5 393.9,520.7 393.7,524.2 390.0,526.4 390.0,530.0 390.0,533.3 386.5,535.5 385.6,538.5 387.6,542.5 385.0,545.0 384.1,548.0 382.0,550.7 380.5,553.5 381.2,557.1 380.0,560.0"/>
<polyline class="bt" points="230.0,335.0 231.4,332.0 233.2,329.4 237.2,328.4 237.2,324.4 240.0,322.5 243.4,321.9 246.4,319.7 250.0,320.0 251.6,322.5 252.1,325.9 255.0,327.5 255.7,331.2 252.9,334.3 253.5,338.0 251.7,341.3 252.5,345.0 250.2,348.0 250.0,352.1 247.5,355.0"/>
<polyline class="bt" points="285.0,367.5 285.9,370.8 289.0,372.5 292.3,374.0 294.3,376.4 295.0,380.0 293.4,382.5 291.8,385.1 290.6,387.9 289.3,390.7 287.1,392.8 285.0,395.0 284.8,398.5 282.2,401.4 284.1,405.4 280.8,408.1 279.7,411.4 280.0,415.0 276.6,414.9 274.7,411.2 271.5,410.6 268.9,408.7 265.1,409.4 262.5,407.5 259.5,408.6 256.3,409.1 252.8,407.7 250.0,410.0 247.8,412.3 246.4,415.3 244.2,417.7 242.6,420.5 240.0,422.5 235.0,420.0 236.0,423.3 235.3,426.2 232.4,428.8 233.7,432.1 232.5,435.0 229.0,436.5 228.1,440.6 225.0,442.5"/>
<polyline class="bt" points="280.0,415.0 280.4,418.4 279.1,421.7 279.8,425.1 278.8,428.4 276.4,431.5 277.5,435.0 274.8,437.4 273.6,440.5 272.6,443.8 270.2,446.4 270.0,450.0 266.4,451.4 264.9,454.9 262.0,457.0 260.0,460.0 261.5,463.3 259.2,466.7 260.0,470.0"/>
<polyline class="bt" points="295.0,380.0 298.1,381.4 300.6,383.8 303.8,384.9 307.3,385.3 310.0,387.5 311.0,391.2 307.6,394.3 309.8,398.2 308.1,401.5 307.5,405.0 309.2,407.9 310.6,411.0 310.5,414.7 312.5,417.5 314.5,414.5 312.4,411.0 314.1,407.9 313.3,404.6 314.5,401.5 314.3,398.2 315.0,395.0 314.6,391.5 315.3,388.3 316.2,385.1 319.2,382.4 318.6,378.9 318.4,375.5 320.0,372.5"/>
<polyline class="bt" points="162.5,410.0 165.8,409.5 168.4,408.1 170.0,405.0 172.6,406.7 175.7,407.8 178.1,409.8 180.0,412.5 181.8,415.7 181.4,419.1 182.6,422.3 182.5,425.7 182.9,429.1 182.5,432.5 179.9,434.0 176.8,434.7 175.0,437.5 172.2,435.6 168.8,435.6 165.7,434.4 162.8,433.0 159.6,432.3 156.5,431.4 153.1,431.1 150.3,429.3 147.5,427.5"/>
<polyline class="bt" points="170.0,437.5 173.7,437.7 175.8,433.8 179.4,433.8 182.7,432.9 186.1,432.4 188.4,429.1 191.6,428.0 195.0,427.5 198.1,427.2 201.1,428.2 204.0,428.8 206.7,431.0 210.0,430.0 211.7,433.3 215.0,435.0"/>
<polyline class="bt" points="117.5,485.0 120.3,482.2 119.4,477.6 122.5,475.0 121.8,471.3 124.9,468.5 126.3,465.3 125.7,461.6 127.0,458.4 127.5,455.0 127.1,450.7 130.0,447.5 133.0,447.1 136.0,449.0 139.0,448.6 142.0,448.7 145.0,447.5 147.0,444.4 145.0,440.7 144.9,437.3 145.5,434.0 147.2,430.8 147.5,427.5"/>
<polyline class="bt" points="130.0,447.5 128.5,444.6 127.2,441.6 124.6,439.5 122.4,437.2 120.0,435.0 120.0,431.4 118.2,428.4 117.5,425.0 115.7,427.4 115.5,430.9 111.7,432.0 111.6,435.5 108.0,436.7 107.5,440.0 105.0,435.0 104.6,431.5 102.7,428.5 102.5,425.0 98.6,424.5 95.5,422.4 92.5,420.0 89.4,417.9 86.1,416.1 82.5,415.0 79.3,414.4 76.7,412.9 75.0,410.0 71.9,408.7 68.9,407.2 65.5,406.6 62.5,405.0"/>
<polyline class="bt" points="155.0,445.0 158.2,446.8 160.0,450.0 162.9,451.3 166.5,450.4 169.2,452.4 172.0,453.9 175.0,455.0 175.3,459.0 177.9,461.9 180.0,465.0"/>
<polyline class="bt" points="142.5,480.0 146.7,480.0 150.0,477.5 153.4,478.3 156.9,478.3 160.2,479.2 163.0,482.4 166.5,482.3 170.0,482.5 173.0,484.5 175.0,487.5 177.3,484.5 181.0,484.5 184.3,483.5 186.9,481.3 190.0,480.0 195.0,477.5"/>
<polyline class="bt" points="142.5,480.0 142.8,483.1 140.9,485.9 139.6,488.8 141.4,492.2 140.0,495.0 142.6,497.3 142.7,500.5 143.5,503.5 143.7,506.6 146.3,508.9 145.5,512.5 147.5,515.0 147.2,518.1 148.5,521.0 150.0,523.8 147.9,527.3 150.0,530.0 153.0,532.0 154.2,535.8 157.5,537.5 161.5,537.9 165.0,540.0 167.6,537.7 171.4,537.8 173.7,534.9 177.7,535.4 180.0,532.5 182.5,530.5 184.3,527.7 186.9,525.8 189.8,524.3 192.5,522.5 194.5,519.8 196.9,517.2 195.9,513.0 198.2,510.3 200.0,507.5 201.8,504.3 206.1,503.6 207.5,500.0"/>
<polyline class="bt" points="117.5,485.0 120.9,484.8 124.0,485.6 127.0,486.6 129.6,488.7 132.5,490.0 134.2,492.8 136.8,494.4 140.0,495.0"/>
<polyline class="bt" points="220.0,515.0 221.8,512.3 223.6,509.5 224.4,506.5 223.4,502.8 225.0,500.0 226.0,496.3 230.0,494.5 231.3,491.1 232.5,487.5 234.8,484.6 238.8,485.0 241.3,482.6 244.3,481.1 247.5,480.0 246.9,476.7 246.4,473.3 247.5,470.0"/>
<polyline class="bt" points="272.5,510.0 275.9,510.3 277.9,512.7 280.0,515.0 283.1,512.9 287.4,513.1 290.0,510.0 292.8,507.2 297.4,508.1 300.0,505.0 302.7,503.1 305.8,502.5 309.3,503.0 312.3,502.0 315.0,500.0 317.6,501.5 320.9,502.1 322.5,505.0 326.0,505.4 329.6,505.6 332.8,507.9 336.6,506.0 340.0,507.5 342.8,509.7 344.0,513.5 348.6,513.9 350.0,517.5 351.5,520.5 351.5,524.1 352.9,527.2 355.0,530.0 355.7,533.7 354.9,537.1 352.5,540.0 352.3,543.7 348.2,545.4 348.7,549.4 345.7,551.6 345.0,555.0 342.2,556.7 342.1,560.3 340.6,562.9 337.0,564.1 336.3,567.3 335.0,570.0"/>
<polyline class="bt" points="280.0,515.0 279.5,519.0 277.5,522.5 279.5,525.5 282.9,527.1 285.0,530.0 286.5,533.0 288.1,536.1 286.3,539.8 286.5,543.2 288.1,546.2 287.8,549.6 290.0,552.5 291.5,549.3 294.5,548.0 297.4,546.8 300.0,545.0 302.7,542.9 303.9,540.1 303.4,536.6 304.2,533.6 306.0,531.2 307.5,528.5 310.1,526.4 309.0,522.6 312.2,520.7 312.5,517.5"/>
<polyline class="bt" points="75.0,450.0 77.1,452.3 79.4,454.2 82.0,455.8 84.8,457.0 87.8,457.8 90.0,460.0 92.0,462.7 93.4,465.8 93.6,469.4 97.3,471.4 97.5,475.0 100.6,475.8 102.0,479.0 105.0,480.0 108.4,480.5 111.8,481.1 115.0,482.3 117.5,485.0"/>
<polyline class="bt" points="62.5,485.0 64.9,486.8 67.8,487.8 70.0,490.0 68.9,493.3 69.7,496.2 69.9,499.3 72.8,501.9 72.5,505.0 74.4,507.8 74.9,510.8 74.0,514.0 73.8,517.1 75.0,520.0 78.1,519.8 81.2,519.1 84.4,519.7 87.5,520.0 88.4,523.1 89.5,526.1 90.5,529.1 91.4,532.1 93.2,534.8 95.0,537.5 92.5,537.5"/>
<polyline class="bt" points="82.5,415.0 82.9,418.6 79.7,421.4 80.0,425.0 80.2,428.1 78.8,431.0 78.9,434.1 77.2,436.9 77.5,440.0 77.7,443.6 76.7,446.9 75.0,450.0 72.0,451.5 69.0,452.4 65.4,450.6 62.5,452.5"/>
<polyline class="bt" points="220.0,515.0 220.6,518.0 222.2,520.7 222.8,523.7 221.7,527.1 224.1,529.6 225.9,532.2 224.8,535.7 226.2,538.5 225.9,541.7 229.6,543.8 229.2,547.1 230.0,550.0 230.2,553.5 231.4,556.7 232.4,559.9 235.0,562.5 238.1,565.1 239.0,568.9 240.0,572.5 240.0,576.1 238.5,579.1 234.8,581.3 235.0,585.0 237.3,587.1 239.1,589.9 242.8,590.3 245.0,592.5 247.4,595.1 251.1,595.3 254.4,596.3 256.6,599.3 260.0,600.0 263.9,599.4 265.6,595.1 269.5,594.7 272.5,592.5 275.3,590.3 276.8,586.8 280.0,585.0 280.5,581.9 280.7,578.7 281.8,575.8 282.8,572.9 284.9,570.3 285.9,567.4 285.4,564.0 285.7,560.9 287.6,558.2 289.7,555.6 290.0,552.5"/>
<polyline class="bt" points="147.5,510.0 149.5,512.7 150.1,515.8 151.5,518.7 150.5,522.3 152.5,525.0 152.8,528.0 155.0,530.8 155.3,533.8 154.9,536.9 155.0,540.0"/>
<polyline class="bt" points="155.0,540.0 157.6,537.6 160.3,535.3 161.5,531.5 165.0,530.0 168.1,528.1 171.8,529.0 174.9,527.2 178.2,526.0 181.5,525.2 185.0,525.0 187.9,523.4 187.8,519.6 190.2,517.6 191.3,514.7 193.1,512.3 195.0,510.0"/>
<polyline class="bt" points="60.0,517.5 63.6,517.1 66.8,516.0 68.8,512.6 71.5,510.6 75.0,510.0 76.0,513.7 79.2,516.2 80.0,520.0 83.4,520.3 84.2,524.5 87.5,525.0 89.0,528.0 89.0,531.7 91.5,534.3 92.5,537.5"/>
<polyline class="bt" points="330.0,231.5 333.2,232.7 336.2,231.1 339.2,229.9 342.3,229.3 345.5,230.9 348.6,231.1 351.8,231.8 354.7,228.9 357.9,230.6 361.0,230.0 364.4,230.1 367.7,231.0 371.0,231.5 374.2,231.8 376.7,233.6 379.0,235.7 381.1,238.3 385.0,237.2 387.1,239.7 389.3,242.0 392.5,242.5 394.6,245.3 398.5,244.4 401.4,245.5 402.9,249.4 405.7,250.9 409.2,250.8 412.6,250.9 414.1,254.9 417.5,255.0 420.4,256.4 422.1,259.7 425.3,260.6 427.6,262.9 431.6,262.8 433.1,266.3 436.8,266.5 439.0,269.0 442.2,268.5 445.5,269.8 448.7,269.5 451.7,267.1 455.0,268.0 456.9,265.3 459.8,263.7 462.5,262.0 464.8,259.7 467.5,258.0 470.0,255.3 473.3,254.2 477.1,254.2 480.4,253.2 482.2,249.1 486.0,249.0 485.5,246.0 485.5,242.8 484.0,240.0"/>
<polyline class="bt" points="483.0,266.0 486.0,269.4 486.0,274.0 483.7,276.6 484.8,280.5 482.1,282.9 481.0,285.9 480.0,289.0 477.0,290.2 474.7,292.8 471.7,294.0 468.7,295.2 466.0,297.0 463.2,298.7 460.0,299.4 457.4,301.5 454.5,303.0 452.3,305.7 448.5,305.3 445.8,307.1 443.3,309.4 440.0,310.0 436.8,310.3 433.9,311.4 431.5,313.6 429.0,315.6 425.7,315.8 423.4,318.1 420.0,318.0 417.8,320.8 414.4,321.6 412.1,324.3 408.7,325.0 405.7,326.5 403.7,329.6 400.0,330.0"/>
<polyline class="bt" points="430.0,300.0 430.8,303.1 433.8,305.3 433.0,309.1 434.1,312.0 436.2,314.6 437.5,317.5 438.5,321.2 436.5,324.5 436.4,328.1 434.0,331.3 435.0,335.0 438.2,334.3 440.8,337.2 443.7,338.2 446.9,337.8 450.0,337.5 452.5,340.0 456.5,339.6 458.3,343.5 462.0,343.5 465.0,345.0 466.4,348.6 469.0,351.0 473.3,351.7 475.0,355.0 478.2,355.5 481.2,355.4 483.8,352.0 486.9,352.5 490.0,352.5 492.6,354.8 496.5,354.5 498.4,358.2 502.3,357.8 505.0,360.0 503.9,363.0 506.2,366.0 505.0,369.0 503.6,372.0 505.0,375.0 507.6,377.9 509.1,381.3 510.0,385.0 513.1,385.0 516.2,384.4 519.4,383.4 522.5,385.0 526.0,385.7 528.9,387.3 530.5,391.3 533.9,392.2 536.4,394.5 540.0,395.0 543.3,395.0 545.4,398.0 549.0,397.0 551.4,399.4 554.1,400.8 557.3,401.0 560.0,402.5 561.7,405.4 564.9,406.4 567.3,408.3 570.0,410.0 572.8,412.8 577.3,412.1 580.0,415.0 583.7,415.0 586.2,412.4 588.8,410.2 592.5,409.9 595.0,407.5 597.8,405.5 601.9,406.5 604.5,404.0 607.5,402.5 610.9,404.0 613.3,407.0 617.0,408.0 620.0,410.0 623.6,409.8 626.5,412.5 630.0,412.5 633.5,413.4 634.3,417.5 638.0,418.1 639.7,421.2 641.4,424.2 645.0,425.0 645.6,428.4 646.1,431.8 647.5,435.0 651.0,436.3 654.6,437.3 657.7,439.3 660.0,442.5 659.1,445.7 655.9,447.3 654.6,450.1 652.5,452.5 650.0,454.3 646.7,455.2 645.8,459.1 642.5,460.0 644.6,462.8 644.5,466.4 647.8,468.8 647.5,472.5 649.2,476.2 647.5,480.0 651.0,479.5 654.5,478.7 658.0,479.5 661.5,479.1 665.0,480.0 667.9,481.3 670.9,482.3 674.3,482.0 676.9,484.4 680.0,485.0 681.9,487.4 684.7,489.3 684.4,493.4 687.5,495.0 690.8,494.8 694.0,495.1 697.1,495.5 700.0,497.5"/>
<polyline class="bt" points="625.0,300.0 626.1,303.2 626.9,306.6 628.6,309.4 631.3,311.9 632.5,315.0 634.0,318.0 635.5,321.1 634.2,324.7 635.2,327.9 636.6,331.0 636.3,334.4 637.5,337.5 639.5,340.5 640.0,344.5 642.4,347.3 645.0,350.0 648.1,351.9 649.0,356.0 653.6,356.4 654.9,360.1 657.5,362.5 657.8,365.6 658.4,368.8 659.0,371.9 656.6,375.0 659.2,378.1 657.3,381.2 656.0,384.4 657.5,387.5 658.7,391.0 658.5,394.5 657.1,398.0 657.5,401.5 657.5,405.0 655.6,407.6 653.7,410.2 654.2,414.1 652.4,416.7 651.0,419.6 650.3,422.8 647.5,425.0"/>
<polyline class="bt" points="700.0,307.5 696.6,309.1 694.3,311.8 692.0,314.5 691.2,318.7 687.5,320.0 685.9,323.2 685.8,326.6 686.4,330.0 685.0,333.2 685.6,336.7 685.0,340.0 687.4,342.0 689.4,344.3 690.8,347.0 693.0,349.1 693.8,352.2 695.0,355.0 696.9,358.1 700.0,360.0"/>
<polyline class="bt" points="417.5,480.0 420.9,479.4 424.2,478.6 427.1,476.9 430.0,475.0 432.9,473.7 436.0,474.2 439.0,473.3 442.2,474.0 445.0,472.5 448.8,471.3 452.5,470.0 454.5,467.4 457.8,466.4 461.0,465.2 461.9,461.2 465.0,460.0 467.8,461.8 471.3,459.4 474.1,460.7 477.1,461.1 480.0,462.5 482.0,464.9 484.2,467.1 487.5,467.5 488.8,470.5 492.0,472.1 492.5,475.8 496.0,477.1 497.5,480.0 499.8,482.6 499.3,486.6 501.6,489.2 502.9,492.3 505.0,495.0 507.8,496.5 510.5,498.5 514.0,497.9 516.6,500.1 520.0,500.0 523.2,501.5 526.4,502.8 530.0,502.5 531.7,499.9 534.4,498.0 535.8,495.1 537.5,492.5 539.6,490.0 541.9,487.7 545.3,486.8 546.6,483.4 550.0,482.5 552.3,479.8 550.7,475.9 551.3,472.7 552.5,469.6 556.1,467.3 555.1,463.6 555.4,460.3 557.5,457.5 560.4,455.1 563.8,454.3 567.5,455.0 570.7,456.5 574.1,457.1 577.3,458.1 580.6,459.1 584.5,457.7 587.5,460.0 591.0,460.8 594.6,460.5 597.8,462.6 601.3,463.1 605.0,462.5 608.3,464.3 612.2,462.0 615.3,465.2 618.8,465.9 622.5,465.0 626.1,463.6 626.6,459.1 629.3,456.8 632.5,455.0 636.4,455.5 639.9,456.9 642.5,460.0"/>
<polyline class="bt" points="530.0,502.5 528.8,506.0 528.9,509.5 529.5,513.0 528.9,516.5 530.0,520.0 530.7,523.0 532.8,525.5 534.5,528.1 535.6,530.9 534.5,534.6 537.4,536.8 537.5,540.0 538.6,543.1 538.8,546.4 540.6,549.3 540.3,552.7 540.0,556.0 538.6,552.8 539.5,549.1 537.7,546.0 537.5,542.5"/>
<polyline class="bt" points="472.5,500.0 476.2,499.4 480.0,500.0 479.3,503.7 481.7,506.7 482.5,510.0 485.3,511.7 488.4,511.4 491.8,509.9 494.5,511.7 497.5,512.5 501.0,512.8 504.4,514.4 508.1,513.5 511.4,515.2 515.0,515.0 517.6,513.1 519.4,510.2 523.3,510.0 524.1,505.9 528.2,505.8 530.0,503.0"/>
<polyline class="bt" points="470.0,512.5 470.5,515.8 470.4,519.1 469.1,522.1 467.5,525.0 468.2,528.4 469.0,531.7 473.5,533.2 473.5,537.0 475.0,540.0 472.5,542.5 469.3,544.3 468.3,548.3 465.0,550.0 464.0,553.0 463.5,556.2 460.9,558.6 461.8,562.3 460.0,565.0 457.0,567.7 457.3,572.0 455.0,575.0"/>
<polyline class="bt" points="540.0,542.5 543.6,542.4 546.5,544.8 550.0,545.0 553.7,544.5 556.6,547.1 560.0,547.5 563.2,546.6 565.8,549.5 568.9,549.7 571.8,550.5 575.0,550.0 577.2,552.3 580.3,553.6 582.7,555.7 585.2,557.7 587.5,560.0 589.1,563.4 593.5,564.0 595.0,567.5 597.9,569.4 601.6,567.2 604.6,568.4 607.5,570.0 610.9,568.7 614.7,570.4 618.0,568.5 621.4,567.6 625.0,567.5 630.0,570.0 628.7,573.1 630.9,576.2 630.1,579.4 630.0,582.5 633.2,581.3 636.6,580.8 639.7,579.5 642.5,577.5 645.9,576.1 648.5,573.3 651.6,571.4 655.0,570.0 657.9,568.2 661.5,569.9 664.5,568.7 667.5,567.5 671.0,566.3 673.2,562.8 676.8,561.7 680.0,560.0 683.6,560.1 686.7,558.6 689.7,556.3 693.3,556.5 697.0,557.1 700.0,555.0"/>
<polyline class="bt" points="525.0,510.0 527.6,512.7 529.6,515.7 531.2,519.0 532.5,522.5 532.7,526.0 533.0,529.5 536.1,532.2 537.0,535.5 537.5,539.0 537.5,542.5 538.1,545.6 537.4,548.8 538.7,551.9 537.5,555.0 536.1,557.9 534.6,560.6 530.6,561.5 530.0,565.0 527.0,567.0 526.0,571.0 521.4,571.4 520.0,575.0 520.8,578.7 519.4,582.1 516.9,585.3 517.0,588.9 517.5,592.5 517.6,596.0 519.4,599.1 520.0,602.5 522.5,604.4 522.9,607.8 525.0,610.0 528.7,609.7 532.0,611.0 535.0,613.0"/>
<polyline class="bt" points="555.0,637.5 558.2,635.5 561.0,632.7 565.0,632.5 567.9,631.7 571.2,632.5 574.1,631.6 577.0,630.5 580.0,630.0 583.4,628.5 586.2,626.1 588.7,623.3 592.5,622.5 597.5,620.0 599.1,622.7 601.5,624.8 602.5,628.0 605.0,630.0 606.5,633.5 610.0,635.0 612.9,633.9 615.9,633.6 619.0,633.3 621.6,631.4 624.3,629.9 627.5,630.0 630.8,630.1 634.0,630.0 637.1,629.0 640.0,627.5 642.9,626.4 645.7,625.2 647.8,623.0 650.3,621.2 652.4,619.0 655.0,617.5 653.9,614.3 654.4,610.9 652.1,608.0 652.7,604.5 653.4,601.1 652.7,597.9 651.9,594.7 650.2,591.6 650.2,588.3 650.0,585.0 647.4,581.6 645.0,578.0"/>
<polyline class="bt" points="655.0,617.5 657.2,620.3 660.2,622.3 662.1,625.4 664.0,628.5 667.5,630.0 670.8,631.7 672.1,635.4 674.3,638.2 677.8,639.7 680.0,642.5 680.9,645.8 680.1,649.6 682.5,652.5 685.2,655.8 685.0,660.0 687.4,662.6 690.0,665.0 693.8,665.6 696.2,669.2 700.0,670.0"/>
<polyline class="bt" points="642.5,700.0 646.2,700.1 648.8,697.6 651.4,695.0 655.0,695.0 657.7,692.7 660.1,690.1 663.0,688.0 665.0,685.0 670.0,682.0"/>
<polyline class="bt" points="390.0,515.0 390.8,518.3 391.2,521.8 391.4,525.3 393.3,528.4 394.5,531.6 395.0,535.0 397.7,538.0 402.1,537.5 405.0,540.0 407.9,541.8 411.4,542.2 414.0,544.6 417.5,545.0 420.2,546.8 419.5,550.9 422.9,552.2 425.4,554.2 426.5,557.1 427.5,560.0 428.7,563.3 430.8,566.3 430.0,570.0"/>
<polyline class="bt" points="467.5,510.0 468.4,513.1 469.0,516.2 468.7,519.5 470.0,522.5 472.3,525.4 474.4,528.3 476.4,531.4 477.5,535.0 475.9,538.1 474.4,541.3 475.0,545.0 472.4,547.4 470.7,550.7 466.8,551.8 465.0,555.0 463.7,558.5 462.5,562.1 460.0,565.0"/>
<polyline class="bt" points="380.0,570.0 383.3,569.1 386.2,571.6 389.3,572.0 392.5,571.7 395.6,571.5 398.7,572.1 402.0,571.3 405.0,572.5 408.5,573.6 411.6,571.2 415.1,571.7 418.5,571.9 421.8,571.5 425.0,570.0 428.3,569.1 431.5,567.7 435.0,567.5 438.3,569.3 442.2,569.7 445.0,572.5 446.9,575.1 450.3,575.4 452.5,577.5"/>
<polyline class="bt" points="807.5,112.5 808.5,115.7 812.0,117.0 813.7,119.7 815.9,122.0 817.4,124.8 820.0,126.8 822.4,129.0 822.5,133.0 825.0,135.0 827.7,137.0 830.0,139.4 832.1,142.1 833.8,145.0 836.1,147.3 837.8,150.3 839.9,152.9 842.5,155.0 841.5,158.1 838.3,160.1 837.1,163.0 838.1,167.1 834.4,168.8 832.7,171.5 832.5,175.0 831.5,178.2 833.7,181.4 831.4,184.6 832.0,187.9 834.1,191.1 834.2,194.3 832.5,197.5 829.2,198.6 827.8,201.5 826.5,204.7 824.7,207.2 822.4,209.3 820.0,211.3 816.5,212.1 815.0,215.0 812.2,217.0 809.5,219.1 805.4,218.3 802.6,220.1 800.0,222.5 797.0,223.8 793.7,221.6 790.6,222.8 787.4,222.4 784.3,223.0 781.2,222.4 778.1,223.0 774.9,223.0 771.9,225.4 768.7,223.9 765.6,224.7 762.5,225.0 759.3,225.7 756.9,228.0 753.3,228.1 751.0,230.5 748.6,232.9 745.8,234.4 742.5,235.0 741.6,238.2 738.8,240.0 738.1,243.4 735.1,245.1 734.1,248.2 731.3,250.0 729.4,252.5 727.4,254.9 724.6,256.8 725.1,261.0 720.9,261.8 720.0,265.0 718.7,267.8 717.1,270.4 715.4,272.9 713.5,275.4 713.6,278.8 712.1,281.5 709.1,283.4 710.4,287.5 707.3,289.3 705.9,292.1 705.0,295.0 705.2,298.7 702.2,301.1 700.7,304.1 700.0,307.5"/>
<polyline class="bt" points="815.0,215.0 816.1,218.2 819.7,218.9 820.3,222.6 823.5,223.6 825.8,225.7 826.9,228.8 830.0,230.0 832.2,232.8 830.6,236.5 831.6,239.6 833.3,242.6 832.2,246.2 834.5,249.0 834.9,252.3 835.4,255.5 835.2,258.8 837.8,261.6 837.5,265.0 836.0,267.6 834.4,270.1 832.5,272.5 834.9,275.1 836.7,278.3 840.0,280.0 842.4,282.1 842.7,285.6 845.6,287.3 847.1,290.0 849.6,292.0 850.7,295.0 852.5,297.5 850.4,300.8 851.0,304.4 850.0,307.9 851.1,311.6 850.0,315.0 852.5,320.0 855.3,321.1 857.9,322.8 860.0,325.0 863.0,324.8 866.1,324.5 869.2,324.5 871.7,321.5 875.0,322.5 878.8,323.3 882.5,322.5 882.1,326.2 884.0,329.2 885.0,332.5 888.5,332.0 891.2,333.9 894.5,333.9 897.3,335.5 900.0,337.5 899.9,341.2 902.2,343.9 903.3,347.1 905.0,350.0 906.8,353.2 909.0,356.0 912.5,357.5 913.0,360.5 913.8,363.4 914.6,366.4 915.2,369.4 916.4,372.2 917.5,375.0 920.2,377.1 923.9,377.1 926.2,380.0 929.6,380.9 932.5,382.5 932.1,386.1 934.8,389.3 935.1,392.8 936.1,396.3 935.0,400.0 934.5,403.4 934.4,406.8 935.7,410.1 937.1,413.3 936.0,416.8 937.5,420.0 939.3,423.2 942.4,425.1 945.6,426.9 947.5,430.0 949.6,427.8 952.4,426.4 955.0,425.0 956.6,422.1 959.0,419.8 961.6,417.8 964.5,415.9 964.3,411.5 967.5,410.0 969.9,411.9 973.4,412.0 975.0,415.0 976.6,411.6 980.7,410.7 982.7,407.7 985.0,405.0 986.6,401.9 985.3,398.6 984.0,395.3 985.5,392.2 986.4,389.1 987.8,386.0 988.2,382.8 986.7,379.5 986.7,376.3 985.9,373.1 987.5,370.0 990.9,368.5 993.2,365.4 996.3,363.4 1000.0,362.5 1003.6,362.5 1006.5,363.9 1008.3,367.3 1012.0,367.1 1013.6,371.1 1017.8,369.8 1020.0,372.5"/>
<polyline class="bt" points="865.0,335.0 865.4,338.6 869.1,340.4 871.0,343.3 870.3,347.3 872.5,350.0 872.1,354.0 870.0,357.5 872.0,360.0 875.6,360.4 878.4,361.9 880.0,365.0 878.8,367.9 878.8,370.9 878.0,373.9 878.2,376.9 880.2,380.1 878.1,383.0 877.5,385.9 878.1,389.0 876.3,391.9 877.5,395.0 877.5,398.1 874.3,400.4 874.3,403.5 875.8,407.1 874.9,410.0 872.5,412.5 873.5,415.7 874.5,419.0 878.3,420.9 879.1,424.2 880.0,427.5 883.5,429.5 887.5,430.0 889.4,433.1 888.0,437.0 890.0,440.0 892.3,443.0 892.1,446.6 892.5,450.0 892.2,453.0 892.7,456.0 891.9,459.0 893.7,462.0 892.5,465.0"/>
<polyline class="bt" points="700.0,362.5 702.8,364.0 706.1,363.0 708.9,364.5 711.9,364.9 715.0,365.0 717.7,367.3 720.3,369.7 722.5,372.5 721.5,375.6 721.0,378.6 721.5,381.7 722.3,384.7 723.2,387.8 724.0,390.8 720.9,393.9 721.8,396.9 722.5,400.0 719.8,401.9 719.4,405.3 716.9,407.3 714.0,409.1 712.7,411.8 711.5,414.8 710.0,417.5 711.5,420.2 711.9,423.3 711.2,426.6 713.7,429.1 713.6,432.3 715.0,435.0 716.4,438.1 717.2,441.5 719.1,444.3 722.3,446.3 724.8,448.7 725.0,452.5 727.1,450.2 729.9,448.9 732.7,447.7 735.6,446.7 738.2,445.3 740.0,442.5 743.5,440.9 747.0,443.6 750.5,443.6 754.0,443.7 757.5,442.5 760.6,443.4 763.9,443.0 766.6,445.5 770.0,445.0 769.3,448.2 770.0,451.3 769.5,454.5 771.8,457.4 773.0,460.5 771.7,463.8 771.2,467.0 772.5,470.0 775.8,469.3 778.8,471.6 782.0,472.5 785.5,470.5 788.5,472.1 791.7,472.7 795.0,472.5 797.9,471.1 800.4,469.1 803.4,468.0 807.0,468.3 810.0,467.2 812.5,465.0 814.9,462.4 816.5,459.0 820.7,458.2 823.2,455.7 825.0,452.5 828.1,452.1 831.0,453.8 833.8,455.3 836.8,455.8 840.0,455.0 843.3,454.7 846.7,454.1 850.0,454.1 853.2,452.3 856.5,451.9 860.0,452.5 863.3,454.2 864.5,458.0 867.5,460.0 867.6,463.3 866.6,466.4 866.8,469.7 866.0,472.9 866.9,476.2 866.9,479.5 865.0,482.5 861.9,484.1 862.0,487.7 861.1,490.7 858.0,492.2 855.9,494.5 855.0,497.5 856.2,500.6 854.7,503.8 855.5,506.9 855.0,510.0 851.3,508.7 847.5,507.5 843.8,506.2 841.4,503.6 840.0,500.0 836.9,501.6 835.6,504.3 835.0,507.5 831.5,508.0 828.0,508.3 824.6,509.8 820.9,508.6 817.5,510.0 817.3,513.4 815.2,516.5 815.3,519.9 814.8,523.2 813.9,526.5 815.0,530.0 816.1,533.2 817.2,536.3 816.9,539.7 817.3,542.9 818.0,546.1 818.4,549.4 817.0,552.8 817.5,556.0"/>
<polyline class="bt" points="987.5,465.0 984.3,465.6 982.6,468.5 979.2,468.7 976.7,470.5 975.8,474.6 972.5,475.0 970.4,477.3 969.2,480.2 968.2,483.3 964.1,484.1 964.2,488.0 961.6,489.9 960.0,492.5 961.4,495.6 962.3,499.0 964.9,501.4 967.5,503.7 969.1,506.7 971.7,509.0 972.5,512.5 971.9,516.1 972.8,519.2 976.2,521.6 977.8,524.5 978.0,527.9 978.6,531.1 977.8,534.8 980.0,537.5"/>
<polyline class="bt" points="987.5,465.0 990.7,465.9 993.7,465.1 996.2,462.0 999.7,464.0 1002.5,462.5 1006.1,462.7 1009.6,462.0 1013.2,462.6 1016.3,459.0 1020.0,460.0"/>
<polyline class="bt" points="700.0,527.5 702.8,529.3 703.1,533.0 704.4,535.9 707.5,537.5"/>
<polyline class="bt" points="987.5,365.0 990.7,365.0 993.6,363.1 996.9,363.4 1000.0,362.5 1003.3,363.4 1006.7,361.2 1010.0,362.5 1012.4,364.6 1014.4,367.0 1016.6,369.2 1017.5,372.5 1020.8,371.6 1023.9,369.7 1027.5,370.0 1029.5,367.6 1031.8,365.7 1035.0,365.0 1036.1,368.6 1039.8,370.9 1040.0,375.0 1042.7,377.5 1046.8,377.9 1050.2,379.3 1052.5,382.5 1054.0,386.0 1058.2,386.8 1060.0,390.0 1060.7,393.4 1062.8,395.7 1064.6,398.3 1067.5,400.0 1071.3,400.8 1073.8,403.6 1077.6,404.5 1080.0,407.5 1085.0,410.0 1086.5,413.5 1089.2,415.8 1092.5,417.5 1094.7,419.7 1097.6,421.1 1100.3,422.7 1102.5,425.0 1105.8,423.3 1107.4,419.9 1110.0,417.5 1113.0,418.6 1116.5,417.6 1119.6,418.4 1122.5,420.0 1125.6,421.6 1125.7,425.4 1128.0,427.6 1130.0,430.0 1133.9,430.6 1136.1,434.5 1140.0,435.0 1143.1,436.9 1145.0,440.0 1146.1,443.3 1147.8,446.4 1147.5,450.0 1150.5,451.3 1151.8,454.7 1155.3,455.2 1157.5,457.5"/>
<polyline class="bt" points="1082.5,410.0 1083.5,406.8 1086.2,405.0 1087.6,402.1 1090.0,400.0 1093.4,400.3 1095.6,396.8 1099.5,398.5 1101.5,394.6 1105.0,395.0 1108.1,396.3 1111.2,395.6 1114.4,394.0 1117.5,395.0 1118.7,391.2 1120.0,387.5 1122.9,386.3 1125.9,385.7 1128.8,385.0 1131.9,385.0 1135.0,385.0 1137.8,387.3 1140.9,387.9 1144.1,388.3 1147.5,387.5 1149.2,384.7 1152.1,383.6 1155.0,382.5 1158.8,381.8 1160.5,377.5 1164.8,377.5 1167.5,375.0 1169.6,372.5 1173.5,372.3 1174.0,367.7 1178.2,367.8 1180.0,365.0 1182.2,362.9 1184.3,360.6 1186.6,358.6 1190.6,359.3 1192.6,356.7 1195.0,355.0 1196.7,351.7 1200.0,350.0"/>
<polyline class="bt" points="987.5,365.0 987.2,368.0 985.1,370.8 986.9,374.2 985.3,377.0 985.0,380.0 985.8,383.5 985.2,386.8 982.8,389.9 982.6,393.2 983.9,396.8 982.5,400.0 981.8,403.4 979.9,405.8 976.6,407.3 975.0,410.0 970.0,407.5"/>
<polyline class="bt" points="1042.5,390.0 1041.7,393.3 1041.6,396.9 1040.0,400.0 1042.5,401.9 1043.0,405.2 1044.4,407.9 1045.8,410.6 1048.1,412.7 1050.0,415.0 1053.2,416.8 1055.0,420.0 1056.5,423.8 1055.0,427.5 1051.9,429.4 1050.2,432.7 1047.5,435.0 1044.3,433.4 1040.5,434.8 1037.5,432.5 1035.6,435.6 1036.4,439.3 1035.0,442.5 1032.1,445.0 1030.2,448.1 1029.4,451.9 1027.5,455.0 1025.2,457.8 1021.1,456.2 1018.8,458.8 1015.3,458.8 1013.2,462.0 1010.0,462.5 1006.9,463.9 1003.4,462.1 1000.4,464.0 997.3,465.1 994.0,464.7 990.7,464.3 987.5,465.0 985.2,468.3 981.2,468.7 978.2,470.8 975.0,472.5 972.8,475.0 971.7,478.3 968.0,479.5 965.6,481.8 963.3,484.2 962.6,487.9 960.0,490.0"/>
<polyline class="bt" points="1040.0,440.0 1040.3,443.2 1042.4,445.9 1042.2,449.3 1045.4,451.5 1045.0,455.0 1046.2,458.0 1048.2,460.4 1051.4,461.4 1053.5,463.6 1055.6,465.8 1057.8,467.9 1060.0,470.0 1063.5,469.5 1065.5,473.5 1069.3,472.1 1072.3,473.0 1075.0,475.0 1077.9,477.7 1079.1,481.3 1080.0,485.0 1077.6,487.4 1078.6,491.4 1076.9,494.2 1073.7,496.1 1073.8,499.7 1072.9,502.9 1070.0,505.0 1066.5,506.4 1063.2,508.1 1060.0,510.0"/>
<polyline class="bt" points="1060.0,510.0 1059.4,513.0 1058.3,515.9 1059.8,519.2 1056.8,521.8 1057.5,525.0 1059.5,528.0 1063.6,528.9 1065.9,531.6 1067.5,535.0 1068.4,538.3 1069.2,541.7 1070.0,545.0 1069.0,548.7 1067.8,552.2 1065.0,555.0 1062.7,557.7 1060.9,560.9 1057.3,562.3 1055.0,565.0 1052.1,566.8 1052.2,570.7 1049.2,572.4 1047.5,575.0 1045.6,577.6 1046.4,581.1 1043.2,583.2 1041.8,585.9 1042.5,589.4 1041.3,592.2 1040.0,595.0 1036.4,594.7 1033.3,596.6 1030.0,597.5 1027.7,599.9 1024.0,600.5 1021.9,603.0 1020.4,606.3 1018.1,608.6 1015.0,610.0 1014.3,613.3 1012.7,616.3 1009.7,618.8 1010.0,622.5 1011.2,625.6 1012.9,628.4 1015.2,630.7 1017.1,633.2 1020.0,635.0 1020.2,638.7 1017.4,641.2 1014.8,643.8 1015.0,647.5 1014.8,651.7 1017.5,655.0"/>
<polyline class="bt" points="1070.0,597.5 1070.4,593.5 1072.5,590.0 1074.4,587.3 1077.0,585.3 1078.4,582.2 1080.9,580.1 1081.8,576.6 1085.0,575.0 1086.7,572.4 1088.8,570.0 1089.3,566.5 1092.5,565.0 1094.3,562.3 1098.4,563.0 1100.0,560.0 1102.9,561.5 1106.0,562.7 1109.3,562.3 1112.5,562.5 1112.3,566.1 1112.9,569.5 1115.0,572.5 1116.6,575.9 1120.0,577.5 1118.4,580.6 1114.7,580.9 1113.0,583.8 1110.0,585.0 1107.1,587.1 1105.5,590.5 1102.4,592.4 1100.0,595.0 1096.3,594.1 1092.9,595.6 1089.6,597.3 1086.0,596.9 1082.5,597.5 1079.4,597.7 1076.2,596.0 1073.1,598.2 1070.0,597.5"/>
<polyline class="bt" points="1192.5,92.5 1194.4,96.0 1195.0,100.0 1192.1,102.1 1190.9,105.9 1187.3,107.3 1185.0,110.0 1181.8,112.3 1181.2,116.2 1180.1,119.8 1177.5,122.5 1174.0,123.1 1170.5,123.4 1167.2,125.2 1163.7,125.8 1160.0,125.0 1161.9,127.9 1161.9,131.1 1162.2,134.3 1162.5,137.5 1164.8,139.6 1166.6,142.0 1168.7,144.2 1169.0,147.6 1169.9,150.6 1172.5,152.5 1171.5,155.6 1171.0,158.7 1170.1,161.8 1170.0,165.0 1172.5,166.9 1172.7,170.4 1175.1,172.4 1176.5,175.1 1178.0,177.7 1180.0,180.0 1183.0,181.6 1186.2,182.8 1189.2,184.2 1192.1,185.8 1194.6,188.4 1197.5,190.0 1197.4,193.1 1196.2,196.0 1197.6,199.3 1196.0,202.1 1195.0,205.0 1192.3,206.8 1192.4,210.5 1189.8,212.4 1188.4,215.0 1187.3,217.9 1185.0,220.0 1183.3,223.0 1185.7,226.0 1184.1,229.0 1186.2,232.0 1185.0,235.0 1182.3,238.0 1177.8,237.2 1175.0,240.0 1173.9,243.2 1173.9,246.8 1171.6,249.5 1170.0,252.5 1171.4,255.5 1171.8,259.0 1175.0,261.4 1175.0,265.0 1176.9,267.7 1175.5,271.5 1177.2,274.3 1180.1,276.6 1180.0,280.0 1181.4,282.8 1182.1,285.7 1181.9,288.9 1183.0,291.8 1183.0,294.9 1185.0,297.5 1187.8,299.1 1191.0,298.6 1193.9,299.8 1196.9,300.3 1200.0,300.0"/>
<polyline class="bt" points="750.3,630.5 752.2,634.6 755.6,637.6 754.8,640.7 752.9,643.5 752.2,646.7 752.0,650.0 749.4,653.0 750.6,657.4 746.9,660.1 746.8,664.0 745.8,668.0 741.4,669.2 739.8,672.7 737.2,674.9 735.1,677.4 732.7,679.8 729.1,680.2 727.0,683.1 724.4,685.3 721.0,685.9 718.7,688.5 713.4,690.3 714.0,694.4 716.9,697.3 718.4,700.2 720.8,702.4 722.4,705.2 724.0,708.0 725.9,710.8 726.8,714.2 729.2,716.7 730.8,720.9 731.0,725.4"/>
<polyline class="bt" points="796.0,628.8 796.4,633.2 796.0,637.6 794.1,640.6 792.8,644.0 791.3,647.2 789.0,650.0 786.4,652.1 784.5,654.5 783.8,657.8 782.0,660.4 779.8,663.7 778.2,667.4 775.0,670.0"/>
<polyline class="bt" points="711.6,620.0 712.9,623.4 714.0,626.8 713.4,630.5 712.0,633.9 710.9,637.4 710.0,641.0 711.8,643.9 709.4,647.4 711.8,650.2 711.6,653.4 713.1,656.6 715.5,658.9 718.7,660.4 715.2,660.9 714.0,664.8 710.9,665.9 708.1,667.5 704.7,667.8 703.5,672.0 700.0,672.0"/>
<polyline class="bt" points="817.5,556.0 818.7,559.2 816.7,562.0 816.6,565.0 814.8,567.9 815.0,570.9 815.5,574.0 813.6,576.8 815.0,580.0 814.4,583.3 813.9,586.7 812.9,589.9 813.4,593.4 813.0,596.7 812.0,600.0 810.0,602.3 808.9,605.3 805.5,606.6 805.0,610.0 803.4,612.8 802.9,616.0 803.3,619.4 801.4,622.1 800.0,625.0 796.0,629.0"/>
<polyline class="bt" points="805.0,605.0 807.7,606.4 809.9,608.5 812.4,610.2 814.3,612.7 816.6,614.6 820.0,615.0 823.3,615.8 826.7,616.5 829.9,617.9 832.9,620.0 836.8,618.6 840.0,620.0 843.2,620.8 846.2,622.5 849.9,621.0 853.0,622.3 855.7,625.2 859.0,625.4 862.5,625.0 864.6,622.5 865.6,619.2 869.8,618.4 871.3,615.4 873.8,613.2 875.0,610.0 876.5,613.2 879.2,614.8 882.7,615.4 885.0,617.5 888.1,618.2 890.4,620.2 892.5,622.5 895.0,624.2 898.1,625.0 900.0,627.5 903.2,627.3 905.7,629.6 908.7,630.3 911.8,630.4 914.1,633.3 917.5,632.5 920.2,634.2 923.9,633.6 926.4,636.0 928.8,638.4 932.3,638.1 935.0,640.0 937.1,642.2 940.9,641.9 942.9,644.4 944.4,647.6 947.3,648.6 950.0,650.0 952.1,652.9 955.7,654.3 957.5,657.5 960.0,660.0"/>
<polyline class="bt" points="760.0,570.0 757.4,571.5 755.4,574.0 752.2,574.6 749.9,576.6 746.6,576.9 745.0,580.0 741.9,580.8 739.1,582.3 736.4,584.2 733.4,585.1 730.0,585.0 726.3,585.9 723.9,589.5 720.0,590.0 719.1,593.3 716.9,595.7 713.9,597.5 712.0,600.0 710.5,602.9 710.8,605.9 709.8,608.9 711.9,612.2 710.0,615.0"/>
<polyline class="bt" points="830.0,555.0 831.3,551.3 835.7,550.7 837.1,547.1 840.0,545.0 843.0,543.0 844.6,539.6 846.7,536.7 850.0,535.0"/>
<polyline class="bm" points="62.0,559.0 63.8,556.5 65.7,554.0 69.5,553.6 71.2,550.9 73.0,548.4 75.4,546.5 77.5,544.3 80.0,542.5 82.7,540.1 86.7,541.0 89.5,539.0 92.5,537.5 92.1,540.8 94.3,543.3 94.7,546.3 96.5,549.0 97.9,551.7 97.5,555.0 100.5,557.0 103.9,557.6 107.5,557.5 108.0,554.3 110.6,551.9 111.3,548.8 111.0,545.3 112.5,542.5 115.7,542.8 118.9,543.8 122.1,542.5 125.4,543.8 128.6,541.8 131.8,542.2 135.0,542.5 138.4,542.7 141.6,540.9 144.9,540.7 148.5,541.9 151.7,540.4 155.0,540.0 156.0,543.0 158.9,544.6 160.0,547.5 163.4,548.2 166.2,550.1 169.4,551.2 171.4,554.7 175.0,555.0 177.9,557.1 179.9,560.1 183.3,561.7 184.9,565.1 187.5,567.5 188.4,570.5 188.9,573.6 190.4,576.4 190.8,579.5 189.4,582.9 191.2,585.8 192.1,588.8 192.8,591.8 192.5,595.0 195.4,596.5 198.0,598.4 200.8,600.0 202.2,603.4 205.0,605.0 207.9,604.1 210.8,603.0 214.1,604.1 216.8,601.9 220.0,602.5 223.2,602.9 225.7,605.4 229.3,604.5 232.1,606.3 235.0,607.5 237.7,609.4 240.7,610.3 244.3,609.6 247.1,611.1 250.0,612.5 250.4,615.7 252.3,618.4 251.8,621.9 254.8,624.2 255.0,627.5 256.7,630.4 260.0,631.3 263.0,632.5 265.0,635.0 268.4,635.7 271.9,635.7 275.0,637.5 278.4,638.6 282.1,637.8 285.3,640.1 289.0,639.7 292.5,640.0 293.8,636.5 295.2,633.0 297.5,630.0 296.1,626.5 293.4,623.7 292.5,620.0 291.5,616.3 287.8,614.3 286.9,610.6 285.0,607.5 285.1,604.2 284.4,600.8 285.0,597.5 288.0,595.5 290.0,592.5 293.3,592.2 296.7,592.9 300.0,592.5 303.4,592.3 306.6,591.1 310.0,590.9 313.2,589.7 316.6,589.5 320.0,590.0 320.3,586.7 318.3,583.8 318.6,580.5 317.5,577.5 315.8,574.6 316.4,571.2 315.2,568.2 315.0,565.0 318.1,565.6 321.3,565.6 324.5,565.6 327.5,566.9 330.5,568.0 334.0,567.7 337.4,567.8 340.6,569.9 344.1,569.1 347.4,569.8 350.8,570.5 353.9,572.0 357.1,571.9 360.2,572.5 363.4,572.8 366.8,571.0 369.9,571.8 373.2,571.4 376.2,573.0 379.4,573.5 382.6,573.5 385.7,572.6 388.9,572.8 392.1,573.4 395.2,573.6 398.4,572.3 401.6,573.0 404.9,573.5 407.9,571.6 411.2,571.9 414.2,570.2 417.3,569.6 420.8,571.3 423.9,570.3 427.0,569.2 430.0,570.1 433.2,568.4 436.2,568.7 439.2,569.3 442.2,570.5 446.0,571.4 449.2,573.4 452.4,575.6 453.7,578.4 455.7,580.9 456.0,584.1 456.1,587.2 457.5,590.0 457.9,593.1 455.6,595.8 455.8,599.0 454.9,601.9 455.0,605.0 458.0,604.3 461.0,604.8 464.0,605.5 467.0,604.6 470.0,605.0 473.5,606.5 474.3,610.7 477.0,613.0 480.0,615.0 483.5,615.3 487.0,615.4 490.0,617.5 487.4,620.4 486.4,624.0 485.0,627.5 488.2,626.7 491.1,627.8 494.2,627.9 496.9,630.3 500.0,630.0 502.0,627.5 505.7,627.2 507.9,624.9 510.0,622.5 512.7,620.2 516.5,620.5 519.3,618.5 522.5,617.5 525.9,617.0 529.1,616.1 531.7,613.5 535.0,613.0 537.3,615.8 536.3,619.9 538.9,622.7 538.9,626.4 540.7,629.4 542.5,632.5 544.6,634.9 546.9,637.0 549.8,638.4 552.5,640.0 553.7,642.8 555.8,645.3 555.2,648.8 557.0,651.4 557.8,654.3 557.8,657.6 560.0,660.0 562.2,662.7 561.8,666.5 564.9,668.9 564.5,672.7 565.5,675.9 568.1,678.5 568.6,681.9 570.0,685.0 569.5,688.4 571.2,691.2 572.3,694.1 573.9,697.0 575.2,699.9 575.2,703.1 575.8,706.2 576.4,709.3 579.5,706.8 583.4,705.8 584.7,702.1 587.0,698.8 590.7,698.4 594.0,700.0 594.0,703.6 595.2,707.0 599.8,707.0 601.0,712.8 604.0,712.7 606.9,711.6 610.6,711.5 614.0,712.8 619.8,711.6 623.3,708.0 626.7,706.8 630.3,707.0 633.8,709.3 637.3,711.6 639.8,714.5 642.0,717.5 641.2,720.8 643.2,723.7 643.2,726.9 649.0,726.9 652.3,728.2 655.0,730.4 655.8,733.9 658.4,736.3 660.5,739.5 660.8,743.3 664.3,743.5 667.8,743.3 671.4,744.0 674.8,745.6 680.0,743.3 682.1,746.0 685.2,747.4 687.5,749.9 691.1,750.6 692.9,753.7 695.8,755.3 699.5,753.8 702.8,751.7 706.4,750.0 708.0,746.7 708.1,743.0 711.4,742.7 713.6,739.7 716.7,739.0 719.7,738.0 722.5,736.4 725.7,736.0 727.2,732.8 729.9,730.9 732.7,729.0 735.0,726.2 738.7,725.2 741.1,722.5 743.3,719.7 746.8,718.4 749.3,715.9 752.3,714.2 755.0,711.9 757.4,709.3 760.8,708.0 762.8,705.2 765.3,703.3 769.5,703.7 771.4,700.8 774.9,701.5 778.5,699.6 782.0,700.8 785.2,703.1 789.0,704.4 792.7,705.3 796.0,703.7 799.4,702.0 803.0,702.6 804.2,705.5 805.5,708.4 806.5,711.4 810.3,711.7 813.5,713.7 817.5,713.4 820.6,715.8 824.1,715.8 826.9,714.0 830.0,712.8 833.0,711.4 836.1,712.6 839.3,711.8 842.4,710.7 845.6,710.7 848.7,711.4 851.3,709.3 854.1,707.9 857.5,708.0 860.4,705.5 862.9,702.6 864.5,699.0 864.8,695.4 866.3,692.0 863.0,690.0 861.3,686.5 859.0,683.4 855.7,681.5 856.3,677.8 853.7,674.6 854.0,671.0 855.4,667.6 856.0,664.1 855.7,660.4 858.4,658.2 859.7,654.9 861.6,652.0 864.5,650.0 868.2,650.4 871.5,648.5 875.0,648.1 878.6,648.0 881.6,648.5 884.6,648.3 887.5,650.0 890.7,648.7 893.7,648.5 896.5,650.3 899.5,650.8 902.4,651.7 905.5,651.7 908.4,652.6 911.4,653.0 914.5,652.1 917.5,652.5 919.4,655.6 922.1,658.3 923.6,661.6 925.0,665.0 927.9,666.7 931.5,666.9 933.8,670.0 937.4,670.2 940.0,672.5 943.2,671.3 946.8,671.6 949.3,668.2 952.4,667.0 956.0,667.0 959.0,665.3 962.5,665.0 965.9,663.7 968.0,660.1 972.4,660.2 975.0,657.5 978.5,658.1 981.8,657.5 985.0,656.0 988.3,655.2 991.7,655.9 995.0,655.0 998.3,654.6 1001.6,653.9 1004.9,653.3 1008.3,653.2 1011.7,653.4 1015.0,652.5 1017.5,655.0 1020.3,656.8 1024.2,656.7 1027.0,658.7 1029.7,660.7 1032.5,662.5 1035.7,661.4 1038.6,659.6 1041.6,658.0 1045.0,657.5 1047.8,655.9 1050.9,656.0 1054.0,655.9 1057.2,656.8 1060.0,655.0 1063.3,653.3 1065.7,650.7 1068.4,648.4 1070.0,645.0 1073.3,643.9 1075.2,641.1 1078.1,639.4 1079.2,635.7 1082.8,635.0 1085.0,632.5 1087.2,630.2 1088.6,627.1 1091.2,625.1 1094.0,623.3 1095.0,620.0 1094.9,616.7 1095.4,613.3 1095.0,610.0 1096.2,607.2 1098.0,604.8 1100.9,603.1 1100.6,599.3 1102.6,597.0 1105.0,595.0 1108.1,595.0 1111.0,593.9 1113.8,592.4 1117.1,593.4 1120.0,592.5 1123.2,590.5 1126.8,589.4 1130.0,587.5 1133.3,586.4 1136.7,585.9 1140.0,585.2 1143.3,583.9 1146.4,582.3 1150.0,582.5 1153.0,581.6 1156.0,583.6 1159.0,582.6 1162.0,581.4 1165.0,582.5 1167.0,579.8 1166.3,576.3 1166.9,573.1 1169.1,570.5 1170.0,567.5 1169.9,564.2 1171.2,561.2 1172.0,558.2 1172.5,555.0 1170.9,552.3 1171.0,549.1 1169.0,546.5 1169.2,543.3 1168.6,540.3 1167.5,537.5 1166.0,534.4 1166.5,531.1 1165.2,528.0 1165.9,524.7 1166.7,521.3 1165.5,518.2 1165.0,515.0 1164.7,511.9 1164.0,509.0 1161.5,506.5 1163.0,503.0 1161.4,500.2 1160.0,497.5 1156.5,497.3 1154.1,494.1 1150.5,494.0 1147.5,492.5 1146.1,489.1 1147.8,485.3 1146.2,482.0 1146.3,478.4 1145.0,475.0 1146.4,472.1 1149.8,471.3 1150.6,467.7 1153.1,465.9 1155.5,464.0 1156.9,461.2 1160.0,460.0 1162.0,457.7 1162.9,454.5 1164.9,452.2 1167.6,450.3 1168.8,447.4 1171.6,445.6 1172.5,442.5 1175.5,442.0 1178.6,441.8 1181.3,440.2 1184.5,440.3 1187.4,439.3 1190.0,437.5 1193.1,435.8 1196.8,436.5 1200.0,435.0 1203.4,434.6 1206.8,435.7 1210.2,435.5 1213.6,435.9 1217.0,435.0"/>
<polyline class="bk" points="62.5,137.5 70.0,143.8 78.8,150.0 83.8,157.5 85.0,162.5 90.0,165.0 85.0,167.5 83.8,175.0 86.2,182.5 90.0,185.0 86.2,192.5 82.5,187.5 76.2,180.0 70.0,176.2 62.5,176.2"/>
<polyline class="bk" points="172.5,187.5 168.8,190.0 160.0,188.8 155.0,197.5 152.5,206.2 147.5,220.0 147.5,227.5 152.5,231.2 158.8,228.8 163.8,215.0 168.8,205.0 173.8,197.5 172.5,187.5"/>
<polyline class="bk" points="288.3,91.6 290.6,99.4 293.8,121.2 295.3,136.9 296.9,152.5 292.2,161.9 284.4,171.2 275.0,172.8 265.6,171.2 256.2,166.6 251.6,158.8 246.9,149.4 242.2,140.0 240.6,126.0 235.9,110.3 233.6,100.2 231.2,113.4 228.9,129.0 228.1,140.0 218.8,147.8 209.4,155.6 203.1,161.9 204.7,174.4 206.2,186.9 209.4,194.7 214.0,197.8 221.9,190.0 218.8,180.6 220.3,171.2 228.1,169.7 232.8,177.5 235.9,190.0 240.6,199.4 245.3,205.6 250.0,196.2 254.7,183.8 262.5,183.0 273.4,185.3 285.9,183.8 290.6,190.0 289.0,199.4 293.8,204.0 300.0,197.8 307.8,186.9 307.8,179.0 315.6,172.8 325.0,163.4 326.6,151.0 328.0,155.6 336.0,163.4 340.6,171.2 339.0,180.6 332.8,185.3"/>
<polyline class="bk" points="348.4,196.2 364.0,197.8 379.7,196.2 389.4,196.2 400.3,196.2 398.8,199.4 392.5,205.6 395.6,210.3 401.9,215.0 411.2,215.0 419.0,216.6 426.9,215.0 441.0,216.6 436.2,219.7 434.7,227.5 439.4,230.6"/>
<polyline class="bk" points="448.8,186.9 451.9,185.3 455.0,190.0 455.0,199.4 453.4,208.8 455.0,219.7 445.6,227.5 441.0,224.0"/>
<polyline class="bk" points="456.6,199.4 467.5,208.8 476.9,218.1 483.1,227.5 489.4,233.8 495.6,240.0 501.9,247.8 507.8,261.7 517.2,248.4 514.0,243.8 514.0,232.8 504.7,231.2 506.2,215.6 509.4,203.0 514.0,195.3 523.4,186.0 534.4,173.4 539.0,162.5 546.9,154.7 548.8,149.4 555.0,146.2 559.7,154.0 558.1,158.8 553.0,157.0"/>
<polyline class="bk" points="557.8,150.0 562.5,167.2 559.4,181.2 553.1,193.8 554.7,204.7 553.1,220.3 548.4,237.5 545.3,253.1 551.6,264.0 545.3,279.7 536.0,290.6 523.4,298.4 512.5,300.0 503.1,303.1 497.0,298.0"/>
<polyline class="bk" points="575.0,161.0 579.7,167.2 581.2,179.7 568.8,187.5 562.5,196.9 565.6,215.6 561.0,231.2 557.8,251.6 567.2,256.2 561.0,262.5 559.4,287.5 546.9,295.3 534.4,307.8 525.0,314.0 512.0,310.0"/>
<polyline class="bk" points="582.8,189.0 586.0,203.0 595.3,209.4 603.1,214.0 596.9,206.2 590.6,200.0 587.5,190.6 592.2,186.0 595.3,190.6 596.9,193.8"/>
<polyline class="bk" points="590.6,181.2 596.9,175.0 603.1,181.2 609.4,186.0 618.8,193.8 629.7,196.9"/>
<polyline class="bk" points="648.4,150.0 635.9,151.6 618.8,153.1 615.6,165.6 617.2,181.2 623.4,187.5 629.7,192.2 634.4,198.4 629.7,209.4 628.1,221.9 632.8,229.7 634.4,237.5 642.2,246.9 650.0,255.0"/>
<polyline class="bk" points="648.0,150.0 655.0,147.5 657.0,135.0 655.0,127.5 667.5,112.5 680.0,100.0 692.5,92.0"/>
<polyline class="bk" points="782.5,142.5 784.0,127.0 791.0,108.4 795.6,92.0"/>
<polyline class="bk" points="805.0,92.0 812.0,99.0 823.8,103.8 833.0,96.7 838.0,92.0"/>
<polyline class="bk" points="567.5,255.0 580.0,260.0 587.5,277.5 595.0,292.5"/>
<polyline class="bk" points="62.5,632.5 77.5,640.0 95.0,637.5 107.5,647.5 120.0,657.5 125.0,680.0 120.0,702.5 118.8,717.5 100.0,707.5 90.0,695.0 75.0,690.0 65.0,695.0 62.5,707.5"/>
<polyline class="bk" points="95.0,700.0 100.0,707.5 120.0,715.0 118.8,700.0"/>
<polyline class="bk" points="62.5,782.5 67.5,785.0 72.5,822.5 62.5,822.5"/>
<polygon class="bk" points="117.5,170.0 110.0,172.5 106.2,177.5 102.5,187.5 92.5,201.2 102.5,205.0 110.0,211.2 117.5,207.5 125.0,198.8 127.5,190.0 126.2,173.8"/>
<polygon class="bk" points="318.8,182.2 326.6,179.0 336.0,183.8 343.8,193.0 350.0,197.8 346.9,199.4 337.5,204.0 328.0,207.2 321.9,202.5 317.2,193.0"/>
<polygon class="bk" points="362.0,168.0 370.0,164.0 378.0,167.0 380.0,175.0 372.0,180.0 363.0,177.0"/>
<polygon class="bk" points="417.5,135.3 422.2,126.0 430.0,121.2 436.2,116.6 445.6,110.3 455.0,104.0 458.1,97.8 467.5,93.1 473.8,91.6 508.1,91.6 489.4,99.4 476.9,108.8 467.5,118.1 458.1,124.4 451.9,129.0 447.2,136.9 444.0,149.4 442.5,161.9 445.6,171.2 442.5,177.5 434.7,171.2 426.9,163.4 422.2,154.0 419.0,144.7"/>
<polygon class="bk" points="978.0,506.0 986.0,508.0 992.0,525.0 997.0,548.0 995.0,578.0 984.0,594.0 970.0,612.0 962.0,628.0 955.0,637.0 942.0,642.0 938.0,637.0 952.0,630.0 963.0,613.0 975.0,596.0 980.0,572.0 979.0,535.0 976.0,512.0"/>
<polygon class="bk" points="457.5,851.2 447.5,831.2 455.0,817.5 477.5,806.2 485.0,810.0 500.0,808.8 520.0,815.0 530.0,816.2 540.0,818.8 550.0,815.0 557.5,816.2 547.5,820.0 540.0,825.0 530.0,826.2 520.0,818.8 510.0,820.0 497.5,813.8 485.0,815.0 470.0,822.5 462.5,825.0"/>
<polygon class="bk" points="167.5,791.2 175.0,762.5 180.0,755.0 197.5,741.2 210.0,746.2 220.0,737.5 225.0,743.8 227.5,735.0 240.0,737.5 245.0,742.5 255.0,741.2 245.0,747.5 237.5,757.5 235.0,765.0 240.0,785.0 230.0,787.5 225.0,790.0 220.0,800.0 205.0,807.5 192.5,805.0"/>
<circle cx="627" cy="111" r="2.5" fill="#000"/>
<circle cx="610" cy="128" r="2" fill="#000"/>
<circle cx="633" cy="141" r="1.8" fill="#000"/>
<circle cx="640" cy="143" r="1.8" fill="#000"/>
<circle cx="588" cy="154" r="2.8" fill="#000"/>
<circle cx="575" cy="161" r="2.5" fill="#000"/>
<circle cx="655" cy="128" r="2" fill="#000"/>
<circle cx="660" cy="131" r="1.8" fill="#000"/>
</g>
<rect x="267.5" y="257" width="40" height="21" fill="#fff"/><text class="lb" x="269.5" y="275" textLength="36" lengthAdjust="spacingAndGlyphs">−28</text>
<rect x="424" y="230" width="40" height="21" fill="#fff"/><text class="lb" x="426" y="248" textLength="36" lengthAdjust="spacingAndGlyphs">−36</text>
<rect x="843.5" y="260" width="40" height="21" fill="#fff"/><text class="lb" x="845.5" y="278" textLength="36" lengthAdjust="spacingAndGlyphs">−32</text>
<rect x="1127" y="357" width="40" height="21" fill="#fff"/><text class="lb" x="1129" y="375" textLength="36" lengthAdjust="spacingAndGlyphs">−36</text>
<rect x="975" y="424" width="40" height="21" fill="#fff"/><text class="lb" x="977" y="442" textLength="36" lengthAdjust="spacingAndGlyphs">−32</text>
<rect x="817.5" y="455" width="40" height="21" fill="#fff"/><text class="lb" x="819.5" y="473" textLength="36" lengthAdjust="spacingAndGlyphs">−32</text>
<rect x="580" y="497.5" width="40" height="21" fill="#fff"/><text class="lb" x="582" y="515.5" textLength="36" lengthAdjust="spacingAndGlyphs">−36</text>
<rect x="182.5" y="566" width="40" height="21" fill="#fff"/><text class="lb" x="184.5" y="584" textLength="36" lengthAdjust="spacingAndGlyphs">−24</text>
<rect x="498" y="607" width="40" height="21" fill="#fff"/><text class="lb" x="500" y="625" textLength="36" lengthAdjust="spacingAndGlyphs">−32</text>
<rect x="698" y="580" width="40" height="21" fill="#fff"/><text class="lb" x="700" y="598" textLength="36" lengthAdjust="spacingAndGlyphs">−40</text>
<rect x="760" y="648" width="40" height="21" fill="#fff"/><text class="lb" x="762" y="666" textLength="36" lengthAdjust="spacingAndGlyphs">−36</text>
<rect x="1128" y="612" width="40" height="21" fill="#fff"/><text class="lb" x="1130" y="630" textLength="36" lengthAdjust="spacingAndGlyphs">−32</text>
<rect x="1061" y="682.5" width="40" height="21" fill="#fff"/><text class="lb" x="1063" y="700.5" textLength="36" lengthAdjust="spacingAndGlyphs">−28</text>
<rect x="467" y="749.5" width="40" height="21" fill="#fff"/><text class="lb" x="469" y="767.5" textLength="36" lengthAdjust="spacingAndGlyphs">−28</text>
<rect x="338.5" y="841" width="40" height="21" fill="#fff"/><text class="lb" x="340.5" y="859" textLength="36" lengthAdjust="spacingAndGlyphs">−24</text>
<circle cx="481" cy="296" r="3" fill="#000"/><text class="ct" x="472.5" y="315" textLength="70" lengthAdjust="spacingAndGlyphs">Салехард</text>
<circle cx="673.5" cy="252" r="3" fill="#000"/><text class="ct" x="680" y="253.5" textLength="66" lengthAdjust="spacingAndGlyphs">Норильск</text>
<circle cx="801" cy="351" r="3" fill="#000"/><text class="ct" x="808.5" y="352.5" textLength="32" lengthAdjust="spacingAndGlyphs">Тура</text>
<circle cx="1093.5" cy="231" r="3" fill="#000"/><text class="ct" x="1101" y="233" textLength="47" lengthAdjust="spacingAndGlyphs">Якутск</text>
<circle cx="469" cy="432.5" r="3" fill="#000"/><text class="ct" x="475" y="427" textLength="124" lengthAdjust="spacingAndGlyphs">Ханты−Мансийск</text>
<circle cx="337.5" cy="494" r="3" fill="#000"/><text class="ct" x="315" y="489" textLength="96" lengthAdjust="spacingAndGlyphs">Екатеринбург</text>
<circle cx="401.5" cy="511" r="3" fill="#000"/><text class="ct" x="408" y="513" textLength="46" lengthAdjust="spacingAndGlyphs">Тюмень</text>
<circle cx="333.5" cy="537.5" r="3" fill="#000"/><text class="ct" x="255" y="541" textLength="76" lengthAdjust="spacingAndGlyphs">Челябинск</text>
<circle cx="386" cy="550" r="3" fill="#000"/><text class="ct" x="333.5" y="562" textLength="49" lengthAdjust="spacingAndGlyphs">Курган</text>
<circle cx="491" cy="591" r="3" fill="#000"/><text class="ct" x="451" y="593" textLength="35" lengthAdjust="spacingAndGlyphs">Омск</text>
<circle cx="625" cy="604" r="3" fill="#000"/><text class="ct" x="530" y="599" textLength="90" lengthAdjust="spacingAndGlyphs">Новосибирск</text>
<circle cx="636" cy="646" r="3" fill="#000"/><text class="ct" x="570" y="650" textLength="62" lengthAdjust="spacingAndGlyphs">Барнаул</text>
<circle cx="652.5" cy="567.5" r="3" fill="#000"/><text class="ct" x="657.5" y="564" textLength="45" lengthAdjust="spacingAndGlyphs">Томск</text>
<circle cx="668.5" cy="596" r="3" fill="#000"/><text class="ct" x="675" y="596" textLength="68" lengthAdjust="spacingAndGlyphs">Кемерово</text>
<circle cx="670" cy="682.5" r="3" fill="#000"/><text class="ct" x="675" y="683" textLength="113" lengthAdjust="spacingAndGlyphs">Горно−Алтайск</text>
<circle cx="761" cy="569" r="3" fill="#000"/><text class="ct" x="767" y="572" textLength="86" lengthAdjust="spacingAndGlyphs">Красноярск</text>
<circle cx="747.5" cy="630" r="3" fill="#000"/><text class="ct" x="754" y="631" textLength="52" lengthAdjust="spacingAndGlyphs">Абакан</text>
<circle cx="800.5" cy="673" r="3" fill="#000"/><text class="ct" x="806.5" y="674.5" textLength="46" lengthAdjust="spacingAndGlyphs">Кызыл</text>
<circle cx="941.5" cy="619" r="3" fill="#000"/><text class="ct" x="948" y="624" textLength="57" lengthAdjust="spacingAndGlyphs">Иркутск</text>
<circle cx="1071" cy="562.5" r="3" fill="#000"/><text class="ct" x="1077.5" y="564" textLength="33" lengthAdjust="spacingAndGlyphs">Чита</text>
<rect x="62" y="91" width="1155" height="843" fill="none" stroke="#000" stroke-width="2"/>
<g>
<polygon points="1200.5,177.3 1216.5,177.3 1208.5,156" fill="#e6198c" stroke="#000" stroke-width="1"/>
<rect x="1200.5" y="177.30" width="16" height="22.23" fill="#a00000" stroke="#000" stroke-width="1"/>
<rect x="1200.5" y="199.53" width="16" height="22.23" fill="#be0000" stroke="#000" stroke-width="1"/>
<rect x="1200.5" y="221.76" width="16" height="22.23" fill="#e01e00" stroke="#000" stroke-width="1"/>
<rect x="1200.5" y="243.99" width="16" height="22.23" fill="#ff3200" stroke="#000" stroke-width="1"/>
<rect x="1200.5" y="266.22" width="16" height="22.23" fill="#ff6e00" stroke="#000" stroke-width="1"/>
<rect x="1200.5" y="288.45" width="16" height="22.23" fill="#ffbe3c" stroke="#000" stroke-width="1"/>
<rect x="1200.5" y="310.68" width="16" height="22.23" fill="#ffe68c" stroke="#000" stroke-width="1"/>
<rect x="1200.5" y="332.91" width="16" height="22.23" fill="#fff5b4" stroke="#000" stroke-width="1"/>
<rect x="1200.5" y="355.14" width="16" height="22.23" fill="#c8fac8" stroke="#000" stroke-width="1"/>
<rect x="1200.5" y="377.37" width="16" height="22.23" fill="#78f078" stroke="#000" stroke-width="1"/>
<rect x="1200.5" y="399.60" width="16" height="22.23" fill="#37d23c" stroke="#000" stroke-width="1"/>
<rect x="1200.5" y="421.83" width="16" height="22.23" fill="#1ea01e" stroke="#000" stroke-width="1"/>
<rect x="1200.5" y="444.06" width="16" height="22.23" fill="#b4f0fa" stroke="#000" stroke-width="1"/>
<rect x="1200.5" y="466.29" width="16" height="22.23" fill="#96d2fa" stroke="#000" stroke-width="1"/>
<rect x="1200.5" y="488.52" width="16" height="22.23" fill="#50a5f5" stroke="#000" stroke-width="1"/>
<rect x="1200.5" y="510.75" width="16" height="22.23" fill="#2882f0" stroke="#000" stroke-width="1"/>
<rect x="1200.5" y="532.98" width="16" height="22.23" fill="#1864d4" stroke="#000" stroke-width="1"/>
<rect x="1200.5" y="555.21" width="16" height="22.23" fill="#8278eb" stroke="#000" stroke-width="1"/>
<rect x="1200.5" y="577.44" width="16" height="22.23" fill="#7864dc" stroke="#000" stroke-width="1"/>
<rect x="1200.5" y="599.67" width="16" height="22.23" fill="#5a46c8" stroke="#000" stroke-width="1"/>
<rect x="1200.5" y="621.90" width="16" height="22.23" fill="#3c28b4" stroke="#000" stroke-width="1"/>
<rect x="1200.5" y="644.13" width="16" height="22.23" fill="#2814a0" stroke="#000" stroke-width="1"/>
<polygon points="1200.5,666.36 1216.5,666.36 1208.5,685" fill="#8c00c8" stroke="#000" stroke-width="1"/>
<text class="cb" x="1221" y="183.3">28</text>
<text class="cb" x="1221" y="205.5">24</text>
<text class="cb" x="1221" y="227.8">20</text>
<text class="cb" x="1221" y="250.0">16</text>
<text class="cb" x="1221" y="272.2">12</text>
<text class="cb" x="1221" y="294.5">8</text>
<text class="cb" x="1221" y="316.7">4</text>
<text class="cb" x="1221" y="338.9">0</text>
<line x1="1222" y1="355.1" x2="1232" y2="355.1" stroke="#000" stroke-width="1.2"/><text class="cb" x="1234" y="361.1">4</text>
<line x1="1222" y1="377.4" x2="1232" y2="377.4" stroke="#000" stroke-width="1.2"/><text class="cb" x="1234" y="383.4">8</text>
<line x1="1222" y1="399.6" x2="1232" y2="399.6" stroke="#000" stroke-width="1.2"/><text class="cb" x="1234" y="405.6">12</text>
<line x1="1222" y1="421.8" x2="1232" y2="421.8" stroke="#000" stroke-width="1.2"/><text class="cb" x="1234" y="427.8">16</text>
<line x1="1222" y1="444.1" x2="1232" y2="444.1" stroke="#000" stroke-width="1.2"/><text class="cb" x="1234" y="450.1">20</text>
<line x1="1222" y1="466.3" x2="1232" y2="466.3" stroke="#000" stroke-width="1.2"/><text class="cb" x="1234" y="472.3">24</text>
<line x1="1222" y1="488.5" x2="1232" y2="488.5" stroke="#000" stroke-width="1.2"/><text class="cb" x="1234" y="494.5">28</text>
<line x1="1222" y1="510.8" x2="1232" y2="510.8" stroke="#000" stroke-width="1.2"/><text class="cb" x="1234" y="516.8">32</text>
<line x1="1222" y1="533.0" x2="1232" y2="533.0" stroke="#000" stroke-width="1.2"/><text class="cb" x="1234" y="539.0">36</text>
<line x1="1222" y1="555.2" x2="1232" y2="555.2" stroke="#000" stroke-width="1.2"/><text class="cb" x="1234" y="561.2">40</text>
<line x1="1222" y1="577.4" x2="1232" y2="577.4" stroke="#000" stroke-width="1.2"/><text class="cb" x="1234" y="583.4">44</text>
<line x1="1222" y1="599.7" x2="1232" y2="599.7" stroke="#000" stroke-width="1.2"/><text class="cb" x="1234" y="605.7">48</text>
<line x1="1222" y1="621.9" x2="1232" y2="621.9" stroke="#000" stroke-width="1.2"/><text class="cb" x="1234" y="627.9">52</text>
<line x1="1222" y1="644.1" x2="1232" y2="644.1" stroke="#000" stroke-width="1.2"/><text class="cb" x="1234" y="650.1">56</text>
<line x1="1222" y1="666.4" x2="1232" y2="666.4" stroke="#000" stroke-width="1.2"/><text class="cb" x="1234" y="672.4">60</text>
</g>
<text x="134.5" y="70" font-size="43.5" textLength="102.0" lengthAdjust="spacingAndGlyphs" style="stroke:#fff;stroke-width:1.3px">03:00</text>
<text x="261.0" y="70" font-size="43.5" textLength="107.5" lengthAdjust="spacingAndGlyphs" style="stroke:#fff;stroke-width:1.3px">23дек</text>
<text x="391.5" y="70" font-size="43.5" textLength="92.0" lengthAdjust="spacingAndGlyphs" style="stroke:#fff;stroke-width:1.3px">2024</text>
<text x="506.5" y="70" font-size="45" textLength="155.7" lengthAdjust="spacingAndGlyphs" style="font-family:'Liberation Serif',serif;stroke:#fff;stroke-width:0.9px">(UTC+0)</text>
<text x="665" y="70" font-size="43.5" style="stroke:#fff;stroke-width:1.3px">:</text>
<text x="696.3" y="70" font-size="43.5" textLength="230.2" lengthAdjust="spacingAndGlyphs" style="stroke:#fff;stroke-width:1.3px">Температура</text>
<text x="947.5" y="70" font-size="43.5" textLength="41.7" lengthAdjust="spacingAndGlyphs" style="stroke:#fff;stroke-width:1.3px">на</text>
<text x="1011.5" y="70" font-size="43.5" textLength="135.0" lengthAdjust="spacingAndGlyphs" style="stroke:#fff;stroke-width:1.3px">500гПа</text>
<text x="66.5" y="970.5" font-size="27" textLength="106.0" lengthAdjust="spacing" style="font-family:'Liberation Mono',monospace;">Прогноз</text>
<text x="186.5" y="970.5" font-size="27" textLength="34.0" lengthAdjust="spacing" style="font-family:'Liberation Mono',monospace;">на</text>
<text x="238.5" y="970.5" font-size="27" textLength="70.5" lengthAdjust="spacing" style="font-family:'Liberation Mono',monospace;">111ч.</text>
<text x="325.5" y="970.5" font-size="27" textLength="40.0" lengthAdjust="spacing" style="font-family:'Liberation Mono',monospace;">от</text>
<text x="375.5" y="970.5" font-size="27" textLength="75.0" lengthAdjust="spacing" style="font-family:'Liberation Mono',monospace;">12:00</text>
<text x="470.2" y="970.5" font-size="27" textLength="78.8" lengthAdjust="spacing" style="font-family:'Liberation Mono',monospace;">18дек</text>
<text x="565.0" y="970.5" font-size="27" textLength="68.5" lengthAdjust="spacing" style="font-family:'Liberation Mono',monospace;">2024</text>
<text x="651.0" y="970.5" font-size="26" textLength="120.5" lengthAdjust="spacingAndGlyphs" style="font-family:'Liberation Serif',serif;">(UTC+0)</text>
<text x="62" y="1006.3" font-size="26.5" textLength="201.5" lengthAdjust="spacingAndGlyphs" style="font-family:'Liberation Serif',serif">COSMO−RuSib</text>
<text x="280" y="1006.3" font-size="26.5" textLength="73" lengthAdjust="spacingAndGlyphs" style="font-family:'Liberation Serif',serif">6.6км</text>
<rect x="876.5" y="982.5" width="350" height="36" fill="#fff" stroke="#b4b4b4" stroke-width="1"/>
<line x1="882" y1="999.7" x2="918" y2="999.7" stroke="#ff2828" stroke-width="1.5"/>
<text x="923" y="1008.6" font-size="23" textLength="268" lengthAdjust="spacingAndGlyphs" style="font-family:'Liberation Mono',monospace;stroke:#000;stroke-width:0.4px">Температура на 500гПа</text>
</svg></body></html>
